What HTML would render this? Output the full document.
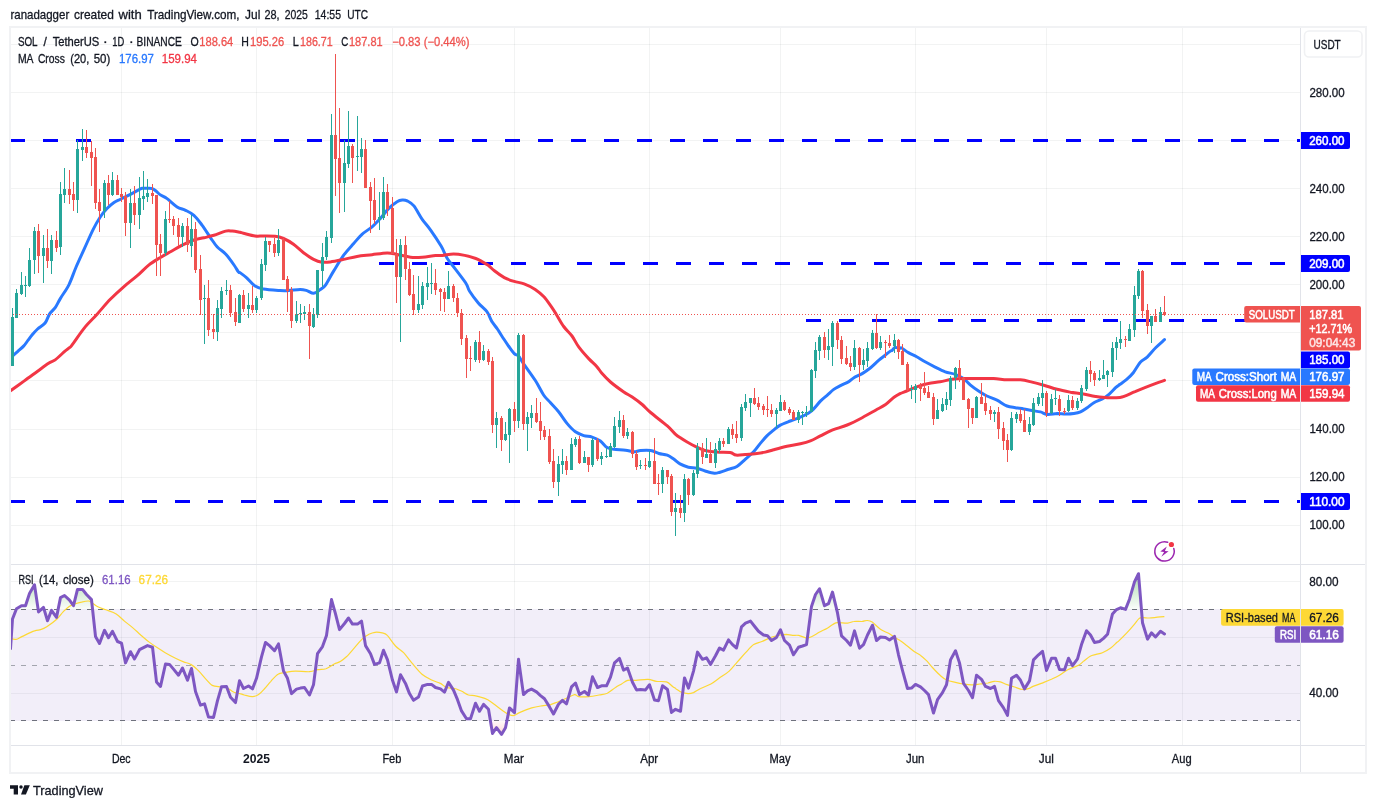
<!DOCTYPE html>
<html><head><meta charset="utf-8"><title>SOLUSDT chart</title>
<style>
html,body{margin:0;padding:0;background:#fff;}
body{width:1376px;height:808px;overflow:hidden;font-family:"Liberation Sans",sans-serif;}
svg{display:block;}
svg text{font-family:"Liberation Sans",sans-serif;}
</style></head><body>
<svg width="1376" height="808" viewBox="0 0 1376 808" shape-rendering="auto">
<rect x="0" y="0" width="1376" height="808" fill="#ffffff"/>
<defs><clipPath id="pane"><rect x="11" y="28" width="1289" height="717"/></clipPath><linearGradient id="ob" x1="0" y1="570" x2="0" y2="609" gradientUnits="userSpaceOnUse"><stop offset="0" stop-color="#4caf50" stop-opacity="0.5"/><stop offset="1" stop-color="#4caf50" stop-opacity="0.03"/></linearGradient><linearGradient id="os" x1="0" y1="721" x2="0" y2="745" gradientUnits="userSpaceOnUse"><stop offset="0" stop-color="#ff5252" stop-opacity="0.03"/><stop offset="1" stop-color="#ff5252" stop-opacity="0.4"/></linearGradient></defs>
<rect x="121" y="28" width="1" height="717" fill="#2a2e39" fill-opacity="0.06"/>
<rect x="256" y="28" width="1" height="717" fill="#2a2e39" fill-opacity="0.06"/>
<rect x="392" y="28" width="1" height="717" fill="#2a2e39" fill-opacity="0.06"/>
<rect x="514" y="28" width="1" height="717" fill="#2a2e39" fill-opacity="0.06"/>
<rect x="649" y="28" width="1" height="717" fill="#2a2e39" fill-opacity="0.06"/>
<rect x="780" y="28" width="1" height="717" fill="#2a2e39" fill-opacity="0.06"/>
<rect x="915" y="28" width="1" height="717" fill="#2a2e39" fill-opacity="0.06"/>
<rect x="1046" y="28" width="1" height="717" fill="#2a2e39" fill-opacity="0.06"/>
<rect x="1182" y="28" width="1" height="717" fill="#2a2e39" fill-opacity="0.06"/>
<rect x="11" y="44" width="1289" height="1" fill="#2a2e39" fill-opacity="0.06"/>
<rect x="11" y="92" width="1289" height="1" fill="#2a2e39" fill-opacity="0.06"/>
<rect x="11" y="140" width="1289" height="1" fill="#2a2e39" fill-opacity="0.06"/>
<rect x="11" y="188" width="1289" height="1" fill="#2a2e39" fill-opacity="0.06"/>
<rect x="11" y="236" width="1289" height="1" fill="#2a2e39" fill-opacity="0.06"/>
<rect x="11" y="284" width="1289" height="1" fill="#2a2e39" fill-opacity="0.06"/>
<rect x="11" y="332" width="1289" height="1" fill="#2a2e39" fill-opacity="0.06"/>
<rect x="11" y="380" width="1289" height="1" fill="#2a2e39" fill-opacity="0.06"/>
<rect x="11" y="429" width="1289" height="1" fill="#2a2e39" fill-opacity="0.06"/>
<rect x="11" y="477" width="1289" height="1" fill="#2a2e39" fill-opacity="0.06"/>
<rect x="11" y="525" width="1289" height="1" fill="#2a2e39" fill-opacity="0.06"/>
<rect x="11" y="581" width="1289" height="1" fill="#2a2e39" fill-opacity="0.06"/>
<rect x="11" y="637" width="1289" height="1" fill="#2a2e39" fill-opacity="0.06"/>
<rect x="11" y="693" width="1289" height="1" fill="#2a2e39" fill-opacity="0.06"/>
<g clip-path="url(#pane)">
<rect x="11" y="609" width="1289" height="112" fill="#7e57c2" fill-opacity="0.1"/>
<line x1="10" y1="609.5" x2="1300" y2="609.5" stroke="#6f727d" stroke-width="1" stroke-dasharray="5 6"/>
<line x1="10" y1="665.5" x2="1300" y2="665.5" stroke="#a3a5ae" stroke-width="1" stroke-dasharray="5 6"/>
<line x1="10" y1="720.5" x2="1300" y2="720.5" stroke="#6f727d" stroke-width="1" stroke-dasharray="5 6"/>
<line x1="10" y1="140.5" x2="1300" y2="140.5" stroke="#0000ff" stroke-width="3" stroke-dasharray="15 18"/>
<line x1="379" y1="263.5" x2="1290" y2="263.5" stroke="#0000ff" stroke-width="3" stroke-dasharray="15 18"/>
<line x1="806" y1="320.5" x2="1250" y2="320.5" stroke="#0000ff" stroke-width="3" stroke-dasharray="15 18"/>
<line x1="10" y1="501.5" x2="1300" y2="501.5" stroke="#0000ff" stroke-width="3" stroke-dasharray="15 18"/>
<path d="M10.5,359.6 C10.8,359.0 11.1,357.6 12.4,356.2 C13.7,354.8 16.2,352.8 18.1,351.1 C20.0,349.4 22.1,347.7 23.8,345.9 C25.5,344.1 26.7,342.0 28.1,340.2 C29.5,338.4 30.4,336.9 32.0,335.0 C33.6,333.1 35.4,331.0 37.6,329.0 C39.8,327.0 43.1,325.5 45.1,323.0 C47.1,320.5 47.8,316.7 49.5,314.1 C51.2,311.5 53.6,310.0 55.4,307.4 C57.2,304.8 58.0,302.4 60.3,298.6 C62.5,294.8 66.3,290.0 68.9,284.8 C71.5,279.6 73.3,273.6 75.9,267.5 C78.5,261.4 81.6,254.8 84.5,248.4 C87.4,242.0 90.6,234.5 93.2,229.3 C95.8,224.1 97.8,220.7 100.1,217.2 C102.4,213.7 104.7,210.9 107.0,208.5 C109.3,206.1 111.7,204.1 114.0,202.5 C116.3,200.9 117.8,200.6 120.9,199.0 C124.0,197.4 129.6,194.7 132.7,193.1 C135.8,191.5 137.6,190.4 139.2,189.6 C140.8,188.8 140.8,188.5 142.3,188.3 C143.8,188.1 146.3,188.2 148.0,188.3 C149.7,188.4 151.0,188.2 152.3,188.7 C153.6,189.1 154.7,190.0 156.0,191.0 C157.3,192.0 158.2,193.3 160.0,194.6 C161.8,195.9 164.2,196.5 167.1,198.6 C169.9,200.7 174.0,204.9 177.1,206.9 C180.2,208.9 182.7,208.9 185.5,210.3 C188.3,211.7 191.1,212.8 193.9,215.3 C196.7,217.8 199.4,221.6 202.2,225.3 C205.0,229.1 208.1,234.2 210.6,237.8 C213.1,241.4 214.8,244.3 217.3,247.0 C219.8,249.7 222.8,251.0 225.6,254.0 C228.4,257.0 231.9,262.0 234.0,265.0 C236.1,268.0 237.4,270.6 238.4,271.9 C239.4,273.2 238.6,271.6 240.0,272.6 C241.4,273.6 244.2,275.6 246.7,277.8 C249.2,280.1 252.3,284.2 255.1,286.1 C257.9,288.0 259.2,288.2 263.4,289.0 C267.6,289.8 275.9,290.3 280.1,290.6 C284.3,290.9 285.1,290.8 288.5,290.6 C291.9,290.4 297.1,289.5 300.2,289.5 C303.3,289.5 304.7,290.0 306.9,290.6 C309.1,291.2 311.4,293.5 313.6,293.3 C315.8,293.1 318.4,290.8 320.3,289.5 C322.2,288.2 323.1,288.4 325.3,285.3 C327.5,282.2 330.5,276.1 333.6,271.1 C336.7,266.1 340.4,259.8 343.7,255.2 C347.0,250.6 350.6,247.0 353.7,243.5 C356.8,240.0 358.9,237.1 362.0,234.3 C365.1,231.5 369.0,229.5 372.1,226.8 C375.2,224.2 377.6,221.5 380.4,218.4 C383.2,215.3 386.0,211.2 388.8,208.4 C391.6,205.6 394.9,203.1 397.1,201.7 C399.3,200.3 400.5,200.2 402.2,200.1 C403.9,200.0 405.2,199.9 407.2,200.9 C409.1,201.9 411.4,202.8 413.9,205.9 C416.4,209.0 419.4,215.3 422.2,219.3 C425.0,223.3 427.5,225.6 430.6,230.1 C433.8,234.6 438.3,241.4 441.1,246.1 C443.9,250.8 445.0,254.8 447.3,258.5 C449.6,262.2 451.7,264.3 454.8,268.4 C457.9,272.5 463.4,279.4 465.9,283.2 C468.4,287.0 467.5,288.0 469.6,291.3 C471.7,294.6 475.4,299.6 478.3,303.0 C481.2,306.4 484.6,308.6 486.9,311.7 C489.2,314.8 490.1,318.7 491.9,321.6 C493.6,324.5 495.8,326.6 497.4,329.0 C499.0,331.4 499.9,333.2 501.8,336.0 C503.7,338.8 506.4,343.1 508.5,346.0 C510.6,348.9 512.6,351.9 514.3,353.6 C516.0,355.3 517.0,354.4 518.5,356.1 C520.0,357.8 520.7,359.6 523.5,363.6 C526.3,367.6 531.9,375.1 535.2,380.3 C538.6,385.5 541.1,391.3 543.6,395.0 C546.1,398.7 547.8,399.7 550.3,402.5 C552.8,405.3 555.8,408.2 558.6,411.7 C561.4,415.2 564.2,420.0 567.0,423.4 C569.8,426.8 572.6,429.8 575.4,431.8 C578.2,433.8 580.9,434.7 583.7,435.6 C586.5,436.5 589.3,436.2 592.1,437.1 C594.9,438.0 597.9,439.2 600.4,441.0 C602.9,442.8 604.9,446.2 607.1,447.6 C609.3,449.0 610.7,448.9 613.8,449.3 C616.9,449.7 622.1,449.8 625.5,450.2 C628.9,450.6 631.4,451.8 633.9,451.8 C636.4,451.9 637.7,450.7 640.5,450.5 C643.3,450.3 647.5,450.0 650.6,450.5 C653.7,451.0 656.1,452.7 658.9,453.5 C661.7,454.3 664.8,454.2 667.3,455.2 C669.8,456.2 671.9,457.9 674.0,459.3 C676.1,460.8 677.6,462.6 680.0,463.9 C682.4,465.2 685.6,466.5 688.4,467.2 C691.2,467.9 693.9,467.6 696.7,468.2 C699.5,468.8 702.2,470.2 705.1,471.0 C708.0,471.8 711.8,473.0 714.3,473.2 C716.8,473.4 717.7,472.8 720.1,472.2 C722.5,471.6 725.7,470.2 728.5,469.3 C731.3,468.4 734.1,468.2 736.9,466.5 C739.7,464.8 742.4,461.8 745.2,459.3 C748.0,456.9 751.1,454.5 753.6,451.8 C756.1,449.1 758.1,446.0 760.3,443.4 C762.5,440.8 764.7,438.1 766.9,435.9 C769.1,433.7 771.4,431.9 773.6,430.1 C775.8,428.3 777.5,426.6 780.3,425.1 C783.1,423.6 786.9,422.3 790.3,421.0 C793.6,419.7 797.3,418.5 800.4,417.2 C803.5,415.9 806.5,414.4 808.7,413.0 C810.9,411.6 811.8,410.9 813.7,408.9 C815.7,406.9 818.2,403.4 820.4,401.1 C822.6,398.8 824.9,397.2 827.1,395.3 C829.3,393.4 831.6,391.0 833.8,389.4 C836.0,387.8 838.0,386.9 840.5,385.6 C843.0,384.3 846.6,382.9 848.8,381.6 C851.0,380.3 851.7,379.0 853.9,377.7 C856.1,376.4 859.4,375.3 862.2,373.6 C865.0,371.9 867.8,369.9 870.6,367.7 C873.4,365.5 876.4,362.3 878.9,360.2 C881.4,358.1 883.8,356.3 885.6,354.8 C887.5,353.3 888.9,352.2 890.0,351.4 C891.1,350.6 891.5,350.8 892.3,350.2 C893.1,349.6 893.7,347.8 895.0,347.5 C896.3,347.2 898.9,348.1 900.0,348.2 C901.1,348.3 900.3,347.3 901.7,348.0 C903.1,348.7 905.9,351.2 908.4,352.6 C910.9,354.1 913.9,355.2 916.7,356.7 C919.5,358.2 922.0,360.1 925.1,361.8 C928.2,363.5 931.8,365.4 935.1,367.1 C938.5,368.8 941.9,370.6 945.2,371.8 C948.6,373.0 952.2,373.2 955.2,374.3 C958.2,375.4 961.0,376.8 963.5,378.5 C966.0,380.2 967.7,382.7 970.2,384.8 C972.7,386.9 975.8,389.1 978.6,391.0 C981.4,392.9 983.8,394.5 986.9,396.0 C990.0,397.5 993.6,398.5 997.0,400.2 C1000.4,401.9 1003.9,404.8 1007.0,406.0 C1010.1,407.2 1012.6,407.2 1015.4,407.7 C1018.2,408.2 1020.9,408.4 1023.7,408.9 C1026.5,409.4 1029.3,410.1 1032.1,410.6 C1034.9,411.1 1037.9,411.3 1040.4,411.9 C1042.9,412.5 1044.3,414.1 1047.1,414.4 C1049.9,414.7 1054.0,413.7 1057.1,413.6 C1060.2,413.6 1062.7,414.1 1065.5,414.1 C1068.3,414.1 1071.4,414.0 1073.9,413.6 C1076.4,413.2 1078.3,412.9 1080.5,411.9 C1082.7,410.9 1085.0,409.2 1087.2,407.7 C1089.4,406.2 1091.4,404.2 1093.9,402.7 C1096.4,401.2 1099.8,400.3 1102.3,398.9 C1104.8,397.5 1106.8,396.2 1109.0,394.3 C1111.2,392.4 1113.8,389.4 1115.6,387.7 C1117.4,386.0 1118.2,385.6 1120.0,384.3 C1121.8,383.0 1124.2,381.5 1126.4,379.6 C1128.6,377.7 1131.0,375.6 1133.3,372.7 C1135.6,369.8 1138.0,364.9 1140.3,362.3 C1142.6,359.7 1144.6,359.6 1147.2,357.1 C1149.8,354.6 1153.0,350.4 1155.9,347.5 C1158.8,344.6 1163.1,340.9 1164.5,339.6" fill="none" stroke="#2979ff" stroke-width="3" stroke-linejoin="round" stroke-linecap="round"/>
<path d="M9.0,392.0 C9.3,391.8 8.3,392.4 10.9,390.5 C13.5,388.6 19.9,384.1 24.3,380.9 C28.8,377.7 33.6,374.1 37.6,371.2 C41.6,368.3 45.7,365.2 48.6,363.3 C51.5,361.4 52.5,361.9 55.2,359.9 C57.9,357.9 62.7,353.1 65.0,351.1 C67.3,349.2 67.7,349.2 68.8,348.2 C69.9,347.2 69.1,348.9 71.8,345.3 C74.5,341.8 81.0,332.0 85.2,326.9 C89.4,321.8 92.7,319.0 96.9,314.4 C101.1,309.8 105.8,303.9 110.3,299.3 C114.8,294.7 119.2,290.7 123.7,286.8 C128.2,282.9 132.8,279.5 137.0,275.9 C141.2,272.3 144.8,268.2 148.7,265.1 C152.6,262.0 156.8,259.7 160.4,257.5 C164.0,255.3 166.6,253.9 170.5,251.7 C174.4,249.5 179.9,246.2 183.8,244.3 C187.7,242.4 190.6,241.1 193.9,240.0 C197.2,238.9 200.6,238.6 203.9,237.8 C207.2,237.0 210.3,236.4 213.9,235.3 C217.5,234.2 222.5,231.8 225.6,231.1 C228.7,230.4 229.9,230.9 232.3,231.1 C234.7,231.3 238.2,232.0 240.0,232.3 C241.8,232.7 240.9,232.6 243.4,233.2 C245.9,233.8 251.8,235.5 255.1,236.0 C258.4,236.5 260.1,235.9 263.4,236.0 C266.7,236.1 271.8,235.9 275.1,236.3 C278.5,236.7 280.4,237.2 283.5,238.5 C286.6,239.8 290.2,241.9 293.5,244.3 C296.8,246.7 300.1,250.2 303.5,252.7 C306.9,255.2 310.5,257.8 313.6,259.4 C316.7,261.0 319.1,261.8 321.9,262.2 C324.7,262.6 326.7,262.4 330.3,261.9 C333.9,261.4 339.2,260.3 343.7,259.4 C348.1,258.5 352.3,257.2 357.0,256.4 C361.7,255.6 367.1,255.3 372.1,254.7 C377.1,254.1 382.9,253.1 387.1,253.0 C391.3,252.9 393.2,253.7 397.1,254.4 C401.0,255.1 406.3,256.7 410.5,257.2 C414.7,257.7 418.0,257.5 422.2,257.2 C426.4,256.9 432.2,255.8 435.6,255.5 C439.0,255.2 439.4,255.6 442.4,255.4 C445.4,255.2 449.8,254.1 453.5,254.1 C457.2,254.1 461.0,254.7 464.7,255.4 C468.4,256.1 472.9,257.5 475.8,258.5 C478.7,259.5 479.9,260.5 482.0,261.6 C484.1,262.7 486.1,263.8 488.2,265.3 C490.3,266.8 491.7,268.8 494.4,270.8 C497.1,272.9 501.0,275.8 504.3,277.6 C507.6,279.4 510.9,280.4 514.2,281.4 C517.5,282.4 520.6,282.5 524.1,283.8 C527.6,285.1 531.9,287.2 535.2,289.4 C538.5,291.6 541.2,293.9 543.9,296.8 C546.6,299.7 549.2,303.8 551.3,306.7 C553.3,309.6 554.1,310.9 556.2,314.2 C558.3,317.5 561.1,322.9 563.7,326.5 C566.3,330.1 569.5,332.6 572.0,336.0 C574.5,339.4 575.9,343.1 578.7,346.9 C581.5,350.7 585.6,355.3 588.7,358.6 C591.8,361.9 594.9,364.4 597.1,366.9 C599.3,369.4 599.9,371.1 602.1,373.6 C604.3,376.1 606.9,378.9 610.5,382.0 C614.1,385.1 620.2,389.5 623.8,392.0 C627.4,394.5 629.1,394.9 632.2,397.0 C635.3,399.1 639.1,401.9 642.2,404.5 C645.3,407.1 646.4,408.9 650.6,412.5 C654.8,416.1 663.1,422.3 667.3,425.9 C671.5,429.5 673.5,432.4 675.6,434.3 C677.7,436.2 678.1,436.4 680.0,437.6 C681.9,438.9 683.9,440.2 686.7,441.8 C689.5,443.4 693.6,445.7 696.7,447.1 C699.8,448.6 701.8,449.7 705.1,450.5 C708.5,451.3 712.6,451.8 716.8,452.1 C721.0,452.5 727.0,452.1 730.2,452.6 C733.4,453.1 733.5,454.8 736.0,455.1 C738.5,455.4 741.7,454.9 745.2,454.6 C748.7,454.3 753.5,453.9 756.9,453.5 C760.2,453.1 762.5,452.7 765.3,452.1 C768.1,451.5 770.0,450.8 773.6,449.8 C777.2,448.8 782.5,447.3 787.0,446.3 C791.5,445.3 796.5,444.7 800.4,443.8 C804.3,442.9 807.1,442.2 810.4,440.9 C813.7,439.6 816.8,437.7 820.4,435.9 C824.0,434.1 827.6,432.0 832.1,430.2 C836.6,428.4 842.2,427.1 847.2,425.0 C852.2,422.9 857.5,420.2 862.2,417.7 C866.9,415.2 871.7,412.4 875.6,410.2 C879.5,408.0 882.5,406.6 885.6,404.5 C888.7,402.4 891.6,399.1 894.0,397.3 C896.4,395.5 897.9,394.7 900.0,393.6 C902.1,392.6 903.9,392.1 906.7,391.0 C909.5,389.9 913.1,388.1 916.7,386.8 C920.3,385.6 924.5,384.3 928.4,383.5 C932.3,382.7 936.2,382.5 940.1,381.8 C944.0,381.1 947.9,379.9 951.8,379.3 C955.7,378.8 959.0,378.6 963.5,378.5 C968.0,378.4 973.6,378.5 978.6,378.5 C983.6,378.5 988.9,378.3 993.6,378.5 C998.3,378.7 1002.5,379.6 1007.0,379.8 C1011.5,380.0 1016.2,379.4 1020.4,379.8 C1024.6,380.2 1028.2,381.2 1032.1,382.1 C1036.0,383.0 1039.6,384.0 1043.8,385.2 C1048.0,386.4 1052.6,388.1 1057.1,389.3 C1061.5,390.5 1066.3,391.4 1070.5,392.2 C1074.7,392.9 1078.0,393.1 1082.2,393.8 C1086.4,394.5 1091.4,395.9 1095.6,396.5 C1099.8,397.1 1103.2,397.6 1107.3,397.7 C1111.4,397.8 1117.1,397.7 1120.0,397.4 C1122.9,397.1 1122.2,397.1 1124.7,396.1 C1127.2,395.2 1131.6,393.1 1135.1,391.7 C1138.6,390.2 1142.0,388.8 1145.5,387.4 C1149.0,386.0 1152.7,384.6 1155.9,383.4 C1159.1,382.2 1163.1,380.9 1164.5,380.4" fill="none" stroke="#f23645" stroke-width="3" stroke-linejoin="round" stroke-linecap="round"/>
<rect x="12" y="308" width="1" height="58" fill="#26a69a"/>
<rect x="11" y="317" width="3" height="49" fill="#26a69a"/>
<rect x="16" y="289" width="1" height="29" fill="#26a69a"/>
<rect x="15" y="293" width="3" height="25" fill="#26a69a"/>
<rect x="21" y="272" width="1" height="23" fill="#26a69a"/>
<rect x="20" y="285" width="3" height="9" fill="#26a69a"/>
<rect x="25" y="276" width="1" height="21" fill="#26a69a"/>
<rect x="24" y="285" width="3" height="1" fill="#26a69a"/>
<rect x="29" y="248" width="1" height="39" fill="#26a69a"/>
<rect x="28" y="260" width="3" height="26" fill="#26a69a"/>
<rect x="34" y="227" width="1" height="47" fill="#26a69a"/>
<rect x="33" y="231" width="3" height="29" fill="#26a69a"/>
<rect x="38" y="224" width="1" height="49" fill="#ef5350"/>
<rect x="37" y="231" width="3" height="25" fill="#ef5350"/>
<rect x="43" y="235" width="1" height="48" fill="#26a69a"/>
<rect x="42" y="248" width="3" height="8" fill="#26a69a"/>
<rect x="47" y="229" width="1" height="39" fill="#ef5350"/>
<rect x="46" y="248" width="3" height="13" fill="#ef5350"/>
<rect x="51" y="235" width="1" height="39" fill="#26a69a"/>
<rect x="50" y="240" width="3" height="21" fill="#26a69a"/>
<rect x="56" y="231" width="1" height="21" fill="#ef5350"/>
<rect x="55" y="240" width="3" height="8" fill="#ef5350"/>
<rect x="60" y="182" width="1" height="73" fill="#26a69a"/>
<rect x="59" y="194" width="3" height="53" fill="#26a69a"/>
<rect x="64" y="168" width="1" height="35" fill="#26a69a"/>
<rect x="63" y="189" width="3" height="6" fill="#26a69a"/>
<rect x="69" y="170" width="1" height="34" fill="#ef5350"/>
<rect x="68" y="189" width="3" height="6" fill="#ef5350"/>
<rect x="73" y="182" width="1" height="29" fill="#ef5350"/>
<rect x="72" y="194" width="3" height="6" fill="#ef5350"/>
<rect x="77" y="140" width="1" height="73" fill="#26a69a"/>
<rect x="76" y="149" width="3" height="51" fill="#26a69a"/>
<rect x="82" y="129" width="1" height="32" fill="#26a69a"/>
<rect x="81" y="147" width="3" height="3" fill="#26a69a"/>
<rect x="86" y="130" width="1" height="28" fill="#ef5350"/>
<rect x="85" y="147" width="3" height="6" fill="#ef5350"/>
<rect x="91" y="141" width="1" height="45" fill="#ef5350"/>
<rect x="90" y="152" width="3" height="6" fill="#ef5350"/>
<rect x="95" y="148" width="1" height="61" fill="#ef5350"/>
<rect x="94" y="157" width="3" height="46" fill="#ef5350"/>
<rect x="99" y="189" width="1" height="43" fill="#ef5350"/>
<rect x="98" y="202" width="3" height="9" fill="#ef5350"/>
<rect x="104" y="180" width="1" height="38" fill="#26a69a"/>
<rect x="103" y="183" width="3" height="28" fill="#26a69a"/>
<rect x="108" y="175" width="1" height="30" fill="#ef5350"/>
<rect x="107" y="183" width="3" height="12" fill="#ef5350"/>
<rect x="112" y="172" width="1" height="24" fill="#26a69a"/>
<rect x="111" y="180" width="3" height="15" fill="#26a69a"/>
<rect x="117" y="175" width="1" height="20" fill="#ef5350"/>
<rect x="116" y="180" width="3" height="15" fill="#ef5350"/>
<rect x="121" y="188" width="1" height="14" fill="#ef5350"/>
<rect x="120" y="194" width="3" height="3" fill="#ef5350"/>
<rect x="125" y="192" width="1" height="44" fill="#ef5350"/>
<rect x="124" y="196" width="3" height="27" fill="#ef5350"/>
<rect x="130" y="189" width="1" height="59" fill="#26a69a"/>
<rect x="129" y="203" width="3" height="20" fill="#26a69a"/>
<rect x="134" y="186" width="1" height="39" fill="#ef5350"/>
<rect x="133" y="203" width="3" height="12" fill="#ef5350"/>
<rect x="139" y="177" width="1" height="52" fill="#26a69a"/>
<rect x="138" y="198" width="3" height="17" fill="#26a69a"/>
<rect x="143" y="171" width="1" height="39" fill="#26a69a"/>
<rect x="142" y="196" width="3" height="3" fill="#26a69a"/>
<rect x="147" y="179" width="1" height="23" fill="#26a69a"/>
<rect x="146" y="193" width="3" height="4" fill="#26a69a"/>
<rect x="152" y="184" width="1" height="20" fill="#ef5350"/>
<rect x="151" y="193" width="3" height="3" fill="#ef5350"/>
<rect x="156" y="195" width="1" height="81" fill="#ef5350"/>
<rect x="155" y="195" width="3" height="50" fill="#ef5350"/>
<rect x="160" y="234" width="1" height="42" fill="#ef5350"/>
<rect x="159" y="244" width="3" height="9" fill="#ef5350"/>
<rect x="165" y="211" width="1" height="45" fill="#26a69a"/>
<rect x="164" y="219" width="3" height="34" fill="#26a69a"/>
<rect x="169" y="201" width="1" height="22" fill="#ef5350"/>
<rect x="168" y="219" width="3" height="1" fill="#ef5350"/>
<rect x="173" y="216" width="1" height="19" fill="#ef5350"/>
<rect x="172" y="219" width="3" height="7" fill="#ef5350"/>
<rect x="178" y="218" width="1" height="28" fill="#ef5350"/>
<rect x="177" y="225" width="3" height="12" fill="#ef5350"/>
<rect x="182" y="223" width="1" height="24" fill="#26a69a"/>
<rect x="181" y="226" width="3" height="11" fill="#26a69a"/>
<rect x="187" y="218" width="1" height="34" fill="#ef5350"/>
<rect x="186" y="226" width="3" height="19" fill="#ef5350"/>
<rect x="191" y="215" width="1" height="42" fill="#26a69a"/>
<rect x="190" y="229" width="3" height="17" fill="#26a69a"/>
<rect x="195" y="222" width="1" height="51" fill="#ef5350"/>
<rect x="194" y="229" width="3" height="41" fill="#ef5350"/>
<rect x="200" y="255" width="1" height="60" fill="#ef5350"/>
<rect x="199" y="269" width="3" height="31" fill="#ef5350"/>
<rect x="204" y="285" width="1" height="59" fill="#26a69a"/>
<rect x="203" y="298" width="3" height="1" fill="#26a69a"/>
<rect x="208" y="280" width="1" height="56" fill="#ef5350"/>
<rect x="207" y="298" width="3" height="32" fill="#ef5350"/>
<rect x="213" y="314" width="1" height="25" fill="#ef5350"/>
<rect x="212" y="329" width="3" height="3" fill="#ef5350"/>
<rect x="217" y="300" width="1" height="41" fill="#26a69a"/>
<rect x="216" y="308" width="3" height="24" fill="#26a69a"/>
<rect x="221" y="287" width="1" height="31" fill="#26a69a"/>
<rect x="220" y="291" width="3" height="18" fill="#26a69a"/>
<rect x="226" y="280" width="1" height="15" fill="#26a69a"/>
<rect x="225" y="290" width="3" height="1" fill="#26a69a"/>
<rect x="230" y="285" width="1" height="32" fill="#ef5350"/>
<rect x="229" y="290" width="3" height="23" fill="#ef5350"/>
<rect x="235" y="298" width="1" height="28" fill="#ef5350"/>
<rect x="234" y="312" width="3" height="10" fill="#ef5350"/>
<rect x="239" y="294" width="1" height="29" fill="#26a69a"/>
<rect x="238" y="295" width="3" height="28" fill="#26a69a"/>
<rect x="243" y="290" width="1" height="22" fill="#ef5350"/>
<rect x="242" y="295" width="3" height="14" fill="#ef5350"/>
<rect x="248" y="293" width="1" height="25" fill="#26a69a"/>
<rect x="247" y="305" width="3" height="4" fill="#26a69a"/>
<rect x="252" y="286" width="1" height="27" fill="#ef5350"/>
<rect x="251" y="305" width="3" height="5" fill="#ef5350"/>
<rect x="256" y="296" width="1" height="17" fill="#26a69a"/>
<rect x="255" y="298" width="3" height="12" fill="#26a69a"/>
<rect x="261" y="259" width="1" height="41" fill="#26a69a"/>
<rect x="260" y="264" width="3" height="34" fill="#26a69a"/>
<rect x="265" y="237" width="1" height="34" fill="#26a69a"/>
<rect x="264" y="241" width="3" height="24" fill="#26a69a"/>
<rect x="269" y="241" width="1" height="11" fill="#ef5350"/>
<rect x="268" y="241" width="3" height="4" fill="#ef5350"/>
<rect x="274" y="238" width="1" height="19" fill="#ef5350"/>
<rect x="273" y="244" width="3" height="9" fill="#ef5350"/>
<rect x="278" y="229" width="1" height="27" fill="#26a69a"/>
<rect x="277" y="240" width="3" height="13" fill="#26a69a"/>
<rect x="283" y="238" width="1" height="42" fill="#ef5350"/>
<rect x="282" y="240" width="3" height="40" fill="#ef5350"/>
<rect x="287" y="276" width="1" height="36" fill="#ef5350"/>
<rect x="286" y="279" width="3" height="12" fill="#ef5350"/>
<rect x="291" y="287" width="1" height="41" fill="#ef5350"/>
<rect x="290" y="290" width="3" height="31" fill="#ef5350"/>
<rect x="296" y="301" width="1" height="22" fill="#26a69a"/>
<rect x="295" y="314" width="3" height="7" fill="#26a69a"/>
<rect x="300" y="304" width="1" height="19" fill="#26a69a"/>
<rect x="299" y="313" width="3" height="1" fill="#26a69a"/>
<rect x="304" y="306" width="1" height="14" fill="#26a69a"/>
<rect x="303" y="312" width="3" height="2" fill="#26a69a"/>
<rect x="309" y="304" width="1" height="55" fill="#ef5350"/>
<rect x="308" y="312" width="3" height="14" fill="#ef5350"/>
<rect x="313" y="308" width="1" height="20" fill="#26a69a"/>
<rect x="312" y="314" width="3" height="13" fill="#26a69a"/>
<rect x="317" y="270" width="1" height="48" fill="#26a69a"/>
<rect x="316" y="270" width="3" height="45" fill="#26a69a"/>
<rect x="322" y="243" width="1" height="44" fill="#26a69a"/>
<rect x="321" y="257" width="3" height="14" fill="#26a69a"/>
<rect x="326" y="231" width="1" height="29" fill="#26a69a"/>
<rect x="325" y="237" width="3" height="20" fill="#26a69a"/>
<rect x="331" y="114" width="1" height="129" fill="#26a69a"/>
<rect x="330" y="135" width="3" height="103" fill="#26a69a"/>
<rect x="335" y="54" width="1" height="142" fill="#ef5350"/>
<rect x="334" y="135" width="3" height="24" fill="#ef5350"/>
<rect x="339" y="108" width="1" height="105" fill="#ef5350"/>
<rect x="338" y="158" width="3" height="25" fill="#ef5350"/>
<rect x="344" y="140" width="1" height="72" fill="#26a69a"/>
<rect x="343" y="163" width="3" height="20" fill="#26a69a"/>
<rect x="348" y="111" width="1" height="57" fill="#26a69a"/>
<rect x="347" y="146" width="3" height="18" fill="#26a69a"/>
<rect x="352" y="144" width="1" height="39" fill="#ef5350"/>
<rect x="351" y="146" width="3" height="12" fill="#ef5350"/>
<rect x="357" y="116" width="1" height="55" fill="#26a69a"/>
<rect x="356" y="156" width="3" height="1" fill="#26a69a"/>
<rect x="361" y="138" width="1" height="35" fill="#26a69a"/>
<rect x="360" y="149" width="3" height="8" fill="#26a69a"/>
<rect x="365" y="140" width="1" height="48" fill="#ef5350"/>
<rect x="364" y="149" width="3" height="39" fill="#ef5350"/>
<rect x="370" y="182" width="1" height="51" fill="#ef5350"/>
<rect x="369" y="187" width="3" height="14" fill="#ef5350"/>
<rect x="374" y="178" width="1" height="46" fill="#ef5350"/>
<rect x="373" y="200" width="3" height="20" fill="#ef5350"/>
<rect x="379" y="192" width="1" height="38" fill="#26a69a"/>
<rect x="378" y="217" width="3" height="3" fill="#26a69a"/>
<rect x="383" y="177" width="1" height="43" fill="#26a69a"/>
<rect x="382" y="192" width="3" height="26" fill="#26a69a"/>
<rect x="387" y="184" width="1" height="32" fill="#ef5350"/>
<rect x="386" y="192" width="3" height="17" fill="#ef5350"/>
<rect x="392" y="197" width="1" height="57" fill="#ef5350"/>
<rect x="391" y="208" width="3" height="46" fill="#ef5350"/>
<rect x="396" y="239" width="1" height="64" fill="#ef5350"/>
<rect x="395" y="254" width="3" height="23" fill="#ef5350"/>
<rect x="400" y="239" width="1" height="103" fill="#26a69a"/>
<rect x="399" y="245" width="3" height="32" fill="#26a69a"/>
<rect x="405" y="236" width="1" height="44" fill="#ef5350"/>
<rect x="404" y="245" width="3" height="24" fill="#ef5350"/>
<rect x="409" y="262" width="1" height="34" fill="#ef5350"/>
<rect x="408" y="269" width="3" height="26" fill="#ef5350"/>
<rect x="413" y="275" width="1" height="40" fill="#ef5350"/>
<rect x="412" y="294" width="3" height="16" fill="#ef5350"/>
<rect x="418" y="276" width="1" height="37" fill="#26a69a"/>
<rect x="417" y="304" width="3" height="6" fill="#26a69a"/>
<rect x="422" y="282" width="1" height="27" fill="#26a69a"/>
<rect x="421" y="286" width="3" height="19" fill="#26a69a"/>
<rect x="427" y="267" width="1" height="33" fill="#26a69a"/>
<rect x="426" y="283" width="3" height="4" fill="#26a69a"/>
<rect x="431" y="263" width="1" height="31" fill="#26a69a"/>
<rect x="430" y="283" width="3" height="1" fill="#26a69a"/>
<rect x="435" y="269" width="1" height="26" fill="#ef5350"/>
<rect x="434" y="283" width="3" height="7" fill="#ef5350"/>
<rect x="440" y="288" width="1" height="23" fill="#ef5350"/>
<rect x="439" y="289" width="3" height="3" fill="#ef5350"/>
<rect x="444" y="288" width="1" height="24" fill="#ef5350"/>
<rect x="443" y="292" width="3" height="7" fill="#ef5350"/>
<rect x="448" y="271" width="1" height="28" fill="#26a69a"/>
<rect x="447" y="286" width="3" height="13" fill="#26a69a"/>
<rect x="453" y="284" width="1" height="18" fill="#ef5350"/>
<rect x="452" y="286" width="3" height="12" fill="#ef5350"/>
<rect x="457" y="293" width="1" height="24" fill="#ef5350"/>
<rect x="456" y="298" width="3" height="15" fill="#ef5350"/>
<rect x="461" y="309" width="1" height="36" fill="#ef5350"/>
<rect x="460" y="313" width="3" height="26" fill="#ef5350"/>
<rect x="466" y="335" width="1" height="43" fill="#ef5350"/>
<rect x="465" y="338" width="3" height="21" fill="#ef5350"/>
<rect x="470" y="346" width="1" height="25" fill="#ef5350"/>
<rect x="469" y="358" width="3" height="1" fill="#ef5350"/>
<rect x="475" y="340" width="1" height="22" fill="#26a69a"/>
<rect x="474" y="342" width="3" height="18" fill="#26a69a"/>
<rect x="479" y="331" width="1" height="32" fill="#ef5350"/>
<rect x="478" y="342" width="3" height="18" fill="#ef5350"/>
<rect x="483" y="345" width="1" height="16" fill="#26a69a"/>
<rect x="482" y="351" width="3" height="9" fill="#26a69a"/>
<rect x="488" y="349" width="1" height="16" fill="#ef5350"/>
<rect x="487" y="351" width="3" height="11" fill="#ef5350"/>
<rect x="492" y="357" width="1" height="76" fill="#ef5350"/>
<rect x="491" y="361" width="3" height="64" fill="#ef5350"/>
<rect x="496" y="412" width="1" height="36" fill="#26a69a"/>
<rect x="495" y="418" width="3" height="7" fill="#26a69a"/>
<rect x="501" y="416" width="1" height="35" fill="#ef5350"/>
<rect x="500" y="418" width="3" height="22" fill="#ef5350"/>
<rect x="505" y="422" width="1" height="19" fill="#26a69a"/>
<rect x="504" y="434" width="3" height="6" fill="#26a69a"/>
<rect x="509" y="408" width="1" height="55" fill="#26a69a"/>
<rect x="508" y="409" width="3" height="26" fill="#26a69a"/>
<rect x="514" y="402" width="1" height="30" fill="#ef5350"/>
<rect x="513" y="409" width="3" height="12" fill="#ef5350"/>
<rect x="518" y="333" width="1" height="95" fill="#26a69a"/>
<rect x="517" y="335" width="3" height="86" fill="#26a69a"/>
<rect x="523" y="334" width="1" height="96" fill="#ef5350"/>
<rect x="522" y="335" width="3" height="89" fill="#ef5350"/>
<rect x="527" y="412" width="1" height="39" fill="#26a69a"/>
<rect x="526" y="417" width="3" height="7" fill="#26a69a"/>
<rect x="531" y="405" width="1" height="23" fill="#26a69a"/>
<rect x="530" y="413" width="3" height="5" fill="#26a69a"/>
<rect x="536" y="398" width="1" height="25" fill="#ef5350"/>
<rect x="535" y="413" width="3" height="9" fill="#ef5350"/>
<rect x="540" y="402" width="1" height="38" fill="#ef5350"/>
<rect x="539" y="421" width="3" height="10" fill="#ef5350"/>
<rect x="544" y="426" width="1" height="14" fill="#ef5350"/>
<rect x="543" y="430" width="3" height="7" fill="#ef5350"/>
<rect x="549" y="429" width="1" height="35" fill="#ef5350"/>
<rect x="548" y="436" width="3" height="26" fill="#ef5350"/>
<rect x="553" y="449" width="1" height="39" fill="#ef5350"/>
<rect x="552" y="461" width="3" height="21" fill="#ef5350"/>
<rect x="558" y="456" width="1" height="40" fill="#26a69a"/>
<rect x="557" y="464" width="3" height="18" fill="#26a69a"/>
<rect x="562" y="449" width="1" height="25" fill="#26a69a"/>
<rect x="561" y="461" width="3" height="4" fill="#26a69a"/>
<rect x="566" y="456" width="1" height="19" fill="#ef5350"/>
<rect x="565" y="461" width="3" height="9" fill="#ef5350"/>
<rect x="571" y="438" width="1" height="32" fill="#26a69a"/>
<rect x="570" y="444" width="3" height="26" fill="#26a69a"/>
<rect x="575" y="437" width="1" height="10" fill="#26a69a"/>
<rect x="574" y="439" width="3" height="6" fill="#26a69a"/>
<rect x="579" y="436" width="1" height="28" fill="#ef5350"/>
<rect x="578" y="439" width="3" height="24" fill="#ef5350"/>
<rect x="584" y="451" width="1" height="12" fill="#26a69a"/>
<rect x="583" y="457" width="3" height="6" fill="#26a69a"/>
<rect x="588" y="457" width="1" height="15" fill="#ef5350"/>
<rect x="587" y="457" width="3" height="8" fill="#ef5350"/>
<rect x="592" y="438" width="1" height="29" fill="#26a69a"/>
<rect x="591" y="440" width="3" height="25" fill="#26a69a"/>
<rect x="597" y="438" width="1" height="23" fill="#ef5350"/>
<rect x="596" y="440" width="3" height="19" fill="#ef5350"/>
<rect x="601" y="452" width="1" height="13" fill="#26a69a"/>
<rect x="600" y="456" width="3" height="3" fill="#26a69a"/>
<rect x="606" y="448" width="1" height="10" fill="#26a69a"/>
<rect x="605" y="456" width="3" height="1" fill="#26a69a"/>
<rect x="610" y="443" width="1" height="14" fill="#26a69a"/>
<rect x="609" y="446" width="3" height="11" fill="#26a69a"/>
<rect x="614" y="417" width="1" height="31" fill="#26a69a"/>
<rect x="613" y="426" width="3" height="21" fill="#26a69a"/>
<rect x="619" y="411" width="1" height="22" fill="#26a69a"/>
<rect x="618" y="420" width="3" height="7" fill="#26a69a"/>
<rect x="623" y="415" width="1" height="23" fill="#ef5350"/>
<rect x="622" y="420" width="3" height="16" fill="#ef5350"/>
<rect x="627" y="428" width="1" height="11" fill="#26a69a"/>
<rect x="626" y="432" width="3" height="4" fill="#26a69a"/>
<rect x="632" y="431" width="1" height="27" fill="#ef5350"/>
<rect x="631" y="432" width="3" height="22" fill="#ef5350"/>
<rect x="636" y="451" width="1" height="19" fill="#ef5350"/>
<rect x="635" y="454" width="3" height="13" fill="#ef5350"/>
<rect x="640" y="460" width="1" height="9" fill="#26a69a"/>
<rect x="639" y="465" width="3" height="1" fill="#26a69a"/>
<rect x="645" y="458" width="1" height="12" fill="#ef5350"/>
<rect x="644" y="465" width="3" height="1" fill="#ef5350"/>
<rect x="649" y="451" width="1" height="17" fill="#26a69a"/>
<rect x="648" y="461" width="3" height="6" fill="#26a69a"/>
<rect x="654" y="438" width="1" height="46" fill="#ef5350"/>
<rect x="653" y="461" width="3" height="23" fill="#ef5350"/>
<rect x="658" y="474" width="1" height="21" fill="#ef5350"/>
<rect x="657" y="483" width="3" height="1" fill="#ef5350"/>
<rect x="662" y="467" width="1" height="26" fill="#26a69a"/>
<rect x="661" y="470" width="3" height="14" fill="#26a69a"/>
<rect x="667" y="470" width="1" height="14" fill="#ef5350"/>
<rect x="666" y="470" width="3" height="7" fill="#ef5350"/>
<rect x="671" y="474" width="1" height="42" fill="#ef5350"/>
<rect x="670" y="476" width="3" height="36" fill="#ef5350"/>
<rect x="675" y="493" width="1" height="43" fill="#26a69a"/>
<rect x="674" y="508" width="3" height="4" fill="#26a69a"/>
<rect x="680" y="495" width="1" height="23" fill="#ef5350"/>
<rect x="679" y="508" width="3" height="5" fill="#ef5350"/>
<rect x="684" y="474" width="1" height="48" fill="#26a69a"/>
<rect x="683" y="479" width="3" height="34" fill="#26a69a"/>
<rect x="688" y="478" width="1" height="27" fill="#ef5350"/>
<rect x="687" y="479" width="3" height="16" fill="#ef5350"/>
<rect x="693" y="470" width="1" height="26" fill="#26a69a"/>
<rect x="692" y="473" width="3" height="22" fill="#26a69a"/>
<rect x="697" y="443" width="1" height="35" fill="#26a69a"/>
<rect x="696" y="447" width="3" height="27" fill="#26a69a"/>
<rect x="702" y="443" width="1" height="21" fill="#ef5350"/>
<rect x="701" y="448" width="3" height="9" fill="#ef5350"/>
<rect x="706" y="438" width="1" height="20" fill="#26a69a"/>
<rect x="705" y="454" width="3" height="4" fill="#26a69a"/>
<rect x="710" y="442" width="1" height="21" fill="#ef5350"/>
<rect x="709" y="454" width="3" height="9" fill="#ef5350"/>
<rect x="715" y="443" width="1" height="25" fill="#26a69a"/>
<rect x="714" y="449" width="3" height="14" fill="#26a69a"/>
<rect x="719" y="438" width="1" height="15" fill="#26a69a"/>
<rect x="718" y="441" width="3" height="9" fill="#26a69a"/>
<rect x="723" y="438" width="1" height="9" fill="#ef5350"/>
<rect x="722" y="441" width="3" height="3" fill="#ef5350"/>
<rect x="728" y="427" width="1" height="17" fill="#26a69a"/>
<rect x="727" y="429" width="3" height="15" fill="#26a69a"/>
<rect x="732" y="424" width="1" height="15" fill="#ef5350"/>
<rect x="731" y="429" width="3" height="6" fill="#ef5350"/>
<rect x="736" y="421" width="1" height="22" fill="#ef5350"/>
<rect x="735" y="434" width="3" height="4" fill="#ef5350"/>
<rect x="741" y="404" width="1" height="37" fill="#26a69a"/>
<rect x="740" y="407" width="3" height="31" fill="#26a69a"/>
<rect x="745" y="394" width="1" height="17" fill="#26a69a"/>
<rect x="744" y="402" width="3" height="6" fill="#26a69a"/>
<rect x="750" y="398" width="1" height="19" fill="#26a69a"/>
<rect x="749" y="398" width="3" height="5" fill="#26a69a"/>
<rect x="754" y="388" width="1" height="17" fill="#ef5350"/>
<rect x="753" y="398" width="3" height="6" fill="#ef5350"/>
<rect x="758" y="397" width="1" height="13" fill="#ef5350"/>
<rect x="757" y="403" width="3" height="4" fill="#ef5350"/>
<rect x="763" y="404" width="1" height="11" fill="#ef5350"/>
<rect x="762" y="406" width="3" height="4" fill="#ef5350"/>
<rect x="767" y="396" width="1" height="21" fill="#ef5350"/>
<rect x="766" y="409" width="3" height="1" fill="#ef5350"/>
<rect x="771" y="404" width="1" height="13" fill="#ef5350"/>
<rect x="770" y="410" width="3" height="4" fill="#ef5350"/>
<rect x="776" y="408" width="1" height="20" fill="#26a69a"/>
<rect x="775" y="410" width="3" height="4" fill="#26a69a"/>
<rect x="780" y="395" width="1" height="16" fill="#26a69a"/>
<rect x="779" y="402" width="3" height="9" fill="#26a69a"/>
<rect x="784" y="400" width="1" height="11" fill="#ef5350"/>
<rect x="783" y="402" width="3" height="8" fill="#ef5350"/>
<rect x="789" y="407" width="1" height="8" fill="#ef5350"/>
<rect x="788" y="409" width="3" height="4" fill="#ef5350"/>
<rect x="793" y="410" width="1" height="10" fill="#ef5350"/>
<rect x="792" y="412" width="3" height="8" fill="#ef5350"/>
<rect x="798" y="410" width="1" height="13" fill="#26a69a"/>
<rect x="797" y="412" width="3" height="8" fill="#26a69a"/>
<rect x="802" y="411" width="1" height="14" fill="#26a69a"/>
<rect x="801" y="412" width="3" height="1" fill="#26a69a"/>
<rect x="806" y="406" width="1" height="11" fill="#26a69a"/>
<rect x="805" y="412" width="3" height="1" fill="#26a69a"/>
<rect x="811" y="369" width="1" height="43" fill="#26a69a"/>
<rect x="810" y="370" width="3" height="42" fill="#26a69a"/>
<rect x="815" y="342" width="1" height="36" fill="#26a69a"/>
<rect x="814" y="350" width="3" height="21" fill="#26a69a"/>
<rect x="819" y="335" width="1" height="25" fill="#26a69a"/>
<rect x="818" y="337" width="3" height="14" fill="#26a69a"/>
<rect x="824" y="332" width="1" height="26" fill="#ef5350"/>
<rect x="823" y="337" width="3" height="13" fill="#ef5350"/>
<rect x="828" y="329" width="1" height="31" fill="#26a69a"/>
<rect x="827" y="346" width="3" height="4" fill="#26a69a"/>
<rect x="832" y="321" width="1" height="45" fill="#26a69a"/>
<rect x="831" y="323" width="3" height="24" fill="#26a69a"/>
<rect x="837" y="321" width="1" height="28" fill="#ef5350"/>
<rect x="836" y="323" width="3" height="17" fill="#ef5350"/>
<rect x="841" y="336" width="1" height="28" fill="#ef5350"/>
<rect x="840" y="340" width="3" height="19" fill="#ef5350"/>
<rect x="846" y="346" width="1" height="19" fill="#ef5350"/>
<rect x="845" y="358" width="3" height="6" fill="#ef5350"/>
<rect x="850" y="356" width="1" height="15" fill="#ef5350"/>
<rect x="849" y="363" width="3" height="4" fill="#ef5350"/>
<rect x="854" y="340" width="1" height="30" fill="#26a69a"/>
<rect x="853" y="348" width="3" height="19" fill="#26a69a"/>
<rect x="859" y="347" width="1" height="35" fill="#ef5350"/>
<rect x="858" y="348" width="3" height="17" fill="#ef5350"/>
<rect x="863" y="349" width="1" height="21" fill="#26a69a"/>
<rect x="862" y="360" width="3" height="5" fill="#26a69a"/>
<rect x="867" y="342" width="1" height="25" fill="#26a69a"/>
<rect x="866" y="348" width="3" height="13" fill="#26a69a"/>
<rect x="872" y="330" width="1" height="20" fill="#26a69a"/>
<rect x="871" y="333" width="3" height="16" fill="#26a69a"/>
<rect x="876" y="314" width="1" height="35" fill="#ef5350"/>
<rect x="875" y="333" width="3" height="15" fill="#ef5350"/>
<rect x="880" y="336" width="1" height="14" fill="#26a69a"/>
<rect x="879" y="342" width="3" height="6" fill="#26a69a"/>
<rect x="885" y="340" width="1" height="18" fill="#ef5350"/>
<rect x="884" y="342" width="3" height="1" fill="#ef5350"/>
<rect x="889" y="335" width="1" height="13" fill="#ef5350"/>
<rect x="888" y="343" width="3" height="3" fill="#ef5350"/>
<rect x="894" y="334" width="1" height="19" fill="#26a69a"/>
<rect x="893" y="340" width="3" height="6" fill="#26a69a"/>
<rect x="898" y="339" width="1" height="20" fill="#ef5350"/>
<rect x="897" y="340" width="3" height="12" fill="#ef5350"/>
<rect x="902" y="344" width="1" height="21" fill="#ef5350"/>
<rect x="901" y="351" width="3" height="14" fill="#ef5350"/>
<rect x="907" y="362" width="1" height="29" fill="#ef5350"/>
<rect x="906" y="364" width="3" height="26" fill="#ef5350"/>
<rect x="911" y="385" width="1" height="14" fill="#26a69a"/>
<rect x="910" y="389" width="3" height="1" fill="#26a69a"/>
<rect x="915" y="384" width="1" height="19" fill="#26a69a"/>
<rect x="914" y="386" width="3" height="4" fill="#26a69a"/>
<rect x="920" y="383" width="1" height="18" fill="#ef5350"/>
<rect x="919" y="386" width="3" height="3" fill="#ef5350"/>
<rect x="924" y="372" width="1" height="23" fill="#ef5350"/>
<rect x="923" y="388" width="3" height="5" fill="#ef5350"/>
<rect x="928" y="386" width="1" height="12" fill="#ef5350"/>
<rect x="927" y="392" width="3" height="6" fill="#ef5350"/>
<rect x="933" y="393" width="1" height="32" fill="#ef5350"/>
<rect x="932" y="397" width="3" height="22" fill="#ef5350"/>
<rect x="937" y="399" width="1" height="20" fill="#26a69a"/>
<rect x="936" y="410" width="3" height="9" fill="#26a69a"/>
<rect x="942" y="398" width="1" height="14" fill="#26a69a"/>
<rect x="941" y="404" width="3" height="7" fill="#26a69a"/>
<rect x="946" y="392" width="1" height="18" fill="#26a69a"/>
<rect x="945" y="399" width="3" height="6" fill="#26a69a"/>
<rect x="950" y="376" width="1" height="30" fill="#26a69a"/>
<rect x="949" y="378" width="3" height="22" fill="#26a69a"/>
<rect x="955" y="367" width="1" height="22" fill="#26a69a"/>
<rect x="954" y="368" width="3" height="10" fill="#26a69a"/>
<rect x="959" y="360" width="1" height="22" fill="#ef5350"/>
<rect x="958" y="368" width="3" height="9" fill="#ef5350"/>
<rect x="963" y="377" width="1" height="23" fill="#ef5350"/>
<rect x="962" y="378" width="3" height="22" fill="#ef5350"/>
<rect x="968" y="398" width="1" height="30" fill="#ef5350"/>
<rect x="967" y="399" width="3" height="10" fill="#ef5350"/>
<rect x="972" y="408" width="1" height="16" fill="#ef5350"/>
<rect x="971" y="408" width="3" height="10" fill="#ef5350"/>
<rect x="976" y="396" width="1" height="22" fill="#26a69a"/>
<rect x="975" y="397" width="3" height="21" fill="#26a69a"/>
<rect x="981" y="383" width="1" height="21" fill="#ef5350"/>
<rect x="980" y="397" width="3" height="7" fill="#ef5350"/>
<rect x="985" y="394" width="1" height="21" fill="#ef5350"/>
<rect x="984" y="403" width="3" height="8" fill="#ef5350"/>
<rect x="990" y="406" width="1" height="14" fill="#ef5350"/>
<rect x="989" y="410" width="3" height="4" fill="#ef5350"/>
<rect x="994" y="410" width="1" height="12" fill="#26a69a"/>
<rect x="993" y="412" width="3" height="2" fill="#26a69a"/>
<rect x="998" y="407" width="1" height="32" fill="#ef5350"/>
<rect x="997" y="412" width="3" height="17" fill="#ef5350"/>
<rect x="1003" y="422" width="1" height="28" fill="#ef5350"/>
<rect x="1002" y="428" width="3" height="13" fill="#ef5350"/>
<rect x="1007" y="434" width="1" height="28" fill="#ef5350"/>
<rect x="1006" y="440" width="3" height="10" fill="#ef5350"/>
<rect x="1011" y="412" width="1" height="39" fill="#26a69a"/>
<rect x="1010" y="418" width="3" height="32" fill="#26a69a"/>
<rect x="1016" y="412" width="1" height="11" fill="#26a69a"/>
<rect x="1015" y="414" width="3" height="5" fill="#26a69a"/>
<rect x="1020" y="409" width="1" height="14" fill="#ef5350"/>
<rect x="1019" y="414" width="3" height="7" fill="#ef5350"/>
<rect x="1024" y="409" width="1" height="23" fill="#ef5350"/>
<rect x="1023" y="420" width="3" height="12" fill="#ef5350"/>
<rect x="1029" y="417" width="1" height="18" fill="#26a69a"/>
<rect x="1028" y="424" width="3" height="8" fill="#26a69a"/>
<rect x="1033" y="398" width="1" height="28" fill="#26a69a"/>
<rect x="1032" y="403" width="3" height="22" fill="#26a69a"/>
<rect x="1038" y="393" width="1" height="13" fill="#26a69a"/>
<rect x="1037" y="397" width="3" height="7" fill="#26a69a"/>
<rect x="1042" y="380" width="1" height="26" fill="#26a69a"/>
<rect x="1041" y="393" width="3" height="5" fill="#26a69a"/>
<rect x="1046" y="391" width="1" height="26" fill="#ef5350"/>
<rect x="1045" y="393" width="3" height="20" fill="#ef5350"/>
<rect x="1051" y="394" width="1" height="20" fill="#26a69a"/>
<rect x="1050" y="399" width="3" height="14" fill="#26a69a"/>
<rect x="1055" y="389" width="1" height="16" fill="#26a69a"/>
<rect x="1054" y="398" width="3" height="1" fill="#26a69a"/>
<rect x="1059" y="395" width="1" height="21" fill="#ef5350"/>
<rect x="1058" y="399" width="3" height="12" fill="#ef5350"/>
<rect x="1064" y="408" width="1" height="6" fill="#ef5350"/>
<rect x="1063" y="411" width="3" height="1" fill="#ef5350"/>
<rect x="1068" y="395" width="1" height="17" fill="#26a69a"/>
<rect x="1067" y="400" width="3" height="11" fill="#26a69a"/>
<rect x="1072" y="396" width="1" height="14" fill="#ef5350"/>
<rect x="1071" y="400" width="3" height="8" fill="#ef5350"/>
<rect x="1077" y="398" width="1" height="12" fill="#26a69a"/>
<rect x="1076" y="401" width="3" height="7" fill="#26a69a"/>
<rect x="1081" y="385" width="1" height="18" fill="#26a69a"/>
<rect x="1080" y="388" width="3" height="13" fill="#26a69a"/>
<rect x="1086" y="367" width="1" height="24" fill="#26a69a"/>
<rect x="1085" y="370" width="3" height="19" fill="#26a69a"/>
<rect x="1090" y="361" width="1" height="21" fill="#ef5350"/>
<rect x="1089" y="370" width="3" height="4" fill="#ef5350"/>
<rect x="1094" y="371" width="1" height="15" fill="#ef5350"/>
<rect x="1093" y="373" width="3" height="7" fill="#ef5350"/>
<rect x="1099" y="370" width="1" height="11" fill="#26a69a"/>
<rect x="1098" y="378" width="3" height="2" fill="#26a69a"/>
<rect x="1103" y="360" width="1" height="19" fill="#26a69a"/>
<rect x="1102" y="375" width="3" height="4" fill="#26a69a"/>
<rect x="1107" y="370" width="1" height="17" fill="#26a69a"/>
<rect x="1106" y="371" width="3" height="4" fill="#26a69a"/>
<rect x="1112" y="342" width="1" height="35" fill="#26a69a"/>
<rect x="1111" y="348" width="3" height="24" fill="#26a69a"/>
<rect x="1116" y="337" width="1" height="23" fill="#26a69a"/>
<rect x="1115" y="342" width="3" height="6" fill="#26a69a"/>
<rect x="1120" y="321" width="1" height="28" fill="#26a69a"/>
<rect x="1119" y="339" width="3" height="4" fill="#26a69a"/>
<rect x="1125" y="336" width="1" height="11" fill="#ef5350"/>
<rect x="1124" y="339" width="3" height="1" fill="#ef5350"/>
<rect x="1129" y="324" width="1" height="17" fill="#26a69a"/>
<rect x="1128" y="329" width="3" height="12" fill="#26a69a"/>
<rect x="1134" y="286" width="1" height="51" fill="#26a69a"/>
<rect x="1133" y="295" width="3" height="35" fill="#26a69a"/>
<rect x="1138" y="269" width="1" height="30" fill="#26a69a"/>
<rect x="1137" y="271" width="3" height="25" fill="#26a69a"/>
<rect x="1142" y="270" width="1" height="48" fill="#ef5350"/>
<rect x="1141" y="271" width="3" height="40" fill="#ef5350"/>
<rect x="1147" y="304" width="1" height="30" fill="#ef5350"/>
<rect x="1146" y="310" width="3" height="16" fill="#ef5350"/>
<rect x="1151" y="316" width="1" height="27" fill="#26a69a"/>
<rect x="1150" y="316" width="3" height="10" fill="#26a69a"/>
<rect x="1155" y="309" width="1" height="13" fill="#ef5350"/>
<rect x="1154" y="316" width="3" height="6" fill="#ef5350"/>
<rect x="1160" y="307" width="1" height="15" fill="#26a69a"/>
<rect x="1159" y="312" width="3" height="10" fill="#26a69a"/>
<rect x="1164" y="296" width="1" height="20" fill="#ef5350"/>
<rect x="1163" y="312" width="3" height="3" fill="#ef5350"/>
<line x1="10" y1="314.5" x2="1300" y2="314.5" stroke="#ef5350" stroke-width="1" stroke-dasharray="1 2"/>
<polygon points="16.2,609.5 16.5,608.8 21.5,605.7 25.5,605.7 29.5,593.5 34.5,584.7 38.2,609.5" fill="url(#ob)"/>
<polygon points="41.1,609.5 43.5,607.4 44.1,609.5" fill="url(#ob)"/>
<polygon points="58.1,609.5 60.5,597.6 64.5,595.5 69.5,600.2 73.5,605.7 77.5,589.4 82.5,589.4 86.5,594.5 91.5,599.6 92.6,609.5" fill="url(#ob)"/>
<polygon points="330.1,609.5 331.5,599.6 334.3,609.5" fill="url(#ob)"/>
<polygon points="811.1,609.5 811.5,606.4 815.5,594.5 819.5,588.8 824.5,605.7 828.5,603.7 832.5,592.1 836.7,609.5" fill="url(#ob)"/>
<polygon points="1116.8,609.5 1120.5,607.8 1125.5,609.4 1129.5,599.2 1134.5,581.9 1138.5,573.7 1141.4,609.5" fill="url(#ob)"/>
<polygon points="490.4,720.5 492.5,733.4 496.5,727.7 501.5,734.4 505.5,727.7 507.0,720.5" fill="url(#os)"/>
<path d="M10.0,638.4 C11.0,638.6 14.1,639.8 16.1,639.4 C18.2,639.1 19.2,637.8 22.3,636.4 C25.3,635.0 31.4,632.0 34.5,630.9 C37.6,629.7 38.6,630.3 40.6,629.6 C42.7,629.0 44.0,628.6 46.8,626.8 C49.5,625.0 54.3,621.5 57.0,619.0 C59.7,616.5 61.1,614.0 63.1,611.9 C65.2,609.8 67.2,607.7 69.2,606.4 C71.3,605.0 73.3,604.4 75.4,603.7 C77.4,603.0 79.3,602.5 81.5,602.1 C83.7,601.6 86.9,600.9 88.6,601.0 C90.3,601.2 90.2,601.7 91.7,602.7 C93.2,603.6 95.4,605.6 97.8,606.8 C100.2,608.0 102.9,608.6 106.0,609.8 C109.1,611.0 113.2,612.0 116.2,613.9 C119.3,615.8 121.7,618.8 124.4,621.1 C127.1,623.3 129.8,625.3 132.6,627.6 C135.3,629.9 138.0,632.6 140.7,635.0 C143.5,637.3 146.2,639.8 148.9,641.9 C151.6,644.0 154.3,645.8 157.1,647.6 C159.8,649.4 162.2,651.0 165.2,652.7 C168.3,654.5 172.4,656.7 175.5,658.2 C178.5,659.8 181.1,660.9 183.6,661.9 C186.2,662.9 188.4,663.0 190.8,664.4 C193.2,665.7 195.4,667.6 197.9,670.1 C200.5,672.6 203.7,676.7 206.1,679.3 C208.5,681.8 209.8,684.1 212.2,685.4 C214.6,686.7 218.0,686.5 220.4,686.8 C222.8,687.2 224.5,686.7 226.5,687.5 C228.6,688.2 231.0,690.6 232.6,691.5 C234.2,692.5 234.9,692.6 236.1,693.0 C237.4,693.3 238.6,693.2 240.0,693.6 C241.4,693.9 242.2,694.5 244.3,695.0 C246.4,695.5 250.1,696.7 252.5,696.6 C254.9,696.6 256.6,696.0 258.6,694.6 C260.6,693.2 262.7,690.7 264.7,688.5 C266.8,686.3 268.6,683.7 270.9,681.3 C273.1,678.9 275.6,675.6 278.0,674.2 C280.4,672.7 282.3,673.1 285.2,672.5 C288.0,672.0 291.3,671.2 295.4,671.1 C299.4,671.0 305.9,672.0 309.7,671.7 C313.4,671.5 315.1,670.2 317.8,669.7 C320.6,669.2 323.3,669.6 326.0,668.7 C328.7,667.7 331.8,665.2 334.2,664.0 C336.6,662.8 338.3,662.7 340.3,661.5 C342.3,660.3 344.0,659.1 346.4,656.8 C348.8,654.5 351.9,650.7 354.6,647.6 C357.3,644.6 360.4,640.6 362.8,638.4 C365.2,636.2 366.9,635.4 368.9,634.3 C370.9,633.3 372.8,632.5 375.0,632.3 C377.2,632.1 380.1,632.4 382.2,632.9 C384.2,633.4 385.1,633.2 387.3,635.4 C389.5,637.5 392.7,643.1 395.5,646.0 C398.2,648.9 400.9,649.9 403.6,652.7 C406.3,655.6 408.7,659.4 411.8,662.9 C414.9,666.5 418.6,671.3 422.0,674.2 C425.4,677.1 429.2,678.8 432.2,680.3 C435.3,681.8 438.0,682.2 440.4,683.4 C442.8,684.6 444.1,686.6 446.5,687.5 C448.9,688.3 452.4,688.0 454.7,688.5 C456.9,689.0 458.7,690.0 460.0,690.5 C461.3,691.0 460.9,690.8 462.3,691.5 C463.7,692.3 466.3,694.3 468.4,695.0 C470.4,695.7 472.5,695.3 474.5,695.6 C476.6,696.0 478.4,696.4 480.6,697.1 C482.9,697.7 485.4,698.4 487.8,699.7 C490.2,701.0 492.4,702.9 494.9,704.8 C497.5,706.7 500.7,709.3 503.1,710.9 C505.5,712.6 507.4,713.9 509.2,714.6 C511.1,715.4 512.6,715.8 514.3,715.4 C516.0,715.1 516.6,713.8 519.4,712.6 C522.3,711.3 528.0,709.0 531.7,707.9 C535.4,706.8 538.9,706.3 541.9,705.8 C545.0,705.3 547.4,705.5 550.1,704.8 C552.8,704.1 555.5,702.8 558.3,701.7 C561.0,700.7 563.7,699.5 566.4,698.3 C569.2,697.1 572.6,694.9 574.6,694.6 C576.6,694.3 576.3,696.3 578.7,696.6 C581.1,697.0 585.5,696.9 588.9,696.6 C592.3,696.4 596.0,695.6 599.1,695.0 C602.2,694.4 604.6,694.4 607.3,693.2 C610.0,691.9 613.1,689.0 615.5,687.5 C617.8,685.9 619.5,685.2 621.6,684.0 C623.6,682.8 625.3,680.9 627.7,680.3 C630.1,679.7 632.5,680.5 635.9,680.3 C639.3,680.1 644.7,679.1 648.1,679.3 C651.5,679.5 653.2,680.9 656.3,681.3 C659.4,681.8 663.8,681.1 666.5,681.9 C669.2,682.8 671.0,685.3 672.6,686.4 C674.2,687.6 674.9,688.0 676.1,688.9 C677.4,689.7 679.0,690.9 680.0,691.5 C681.0,692.1 680.9,692.2 682.3,692.6 C683.7,692.9 686.5,693.6 688.4,693.6 C690.3,693.6 691.4,693.4 693.5,692.6 C695.5,691.7 697.7,689.9 700.6,688.5 C703.5,687.0 707.8,685.7 710.9,684.0 C713.9,682.3 716.0,680.4 719.0,678.3 C722.1,676.1 726.2,673.8 729.2,671.1 C732.3,668.4 734.7,665.0 737.4,661.9 C740.1,658.9 742.9,655.6 745.6,652.7 C748.3,649.8 751.0,646.4 753.7,644.6 C756.5,642.7 758.9,642.8 761.9,641.5 C765.0,640.2 769.1,638.1 772.1,637.0 C775.2,635.9 777.9,635.4 780.3,635.0 C782.7,634.5 784.4,634.3 786.4,634.3 C788.5,634.4 790.5,635.2 792.6,635.4 C794.6,635.5 796.5,635.0 798.7,635.4 C800.9,635.8 803.8,637.5 805.8,637.8 C807.9,638.1 808.7,637.9 810.9,637.0 C813.2,636.1 816.4,633.8 819.1,632.3 C821.8,630.8 824.9,629.6 827.3,628.2 C829.7,626.9 831.7,625.0 833.4,624.1 C835.1,623.2 835.1,622.9 837.5,622.7 C839.9,622.5 845.0,623.3 847.7,623.1 C850.4,622.9 851.5,621.7 853.8,621.5 C856.2,621.2 859.8,621.6 862.0,621.5 C864.2,621.3 865.4,620.4 867.1,620.5 C868.8,620.6 870.0,620.6 872.2,622.1 C874.4,623.6 877.7,627.4 880.4,629.2 C883.1,631.1 886.2,632.0 888.6,633.3 C890.9,634.7 893.1,636.4 894.7,637.4 C896.3,638.4 897.3,638.9 898.2,639.4 C899.1,640.0 898.6,639.5 900.0,640.5 C901.4,641.4 903.9,643.3 906.3,645.2 C908.8,647.0 912.1,650.0 914.5,651.7 C916.9,653.4 918.6,653.8 920.6,655.4 C922.7,656.9 924.7,658.8 926.8,660.9 C928.8,663.0 930.5,665.5 932.9,668.0 C935.3,670.6 938.7,674.2 941.1,676.2 C943.4,678.3 944.8,679.3 947.2,680.3 C949.6,681.3 952.6,681.7 955.4,682.3 C958.1,683.0 960.8,683.6 963.5,684.0 C966.3,684.4 969.0,684.8 971.7,684.8 C974.4,684.8 977.2,684.3 979.9,684.0 C982.6,683.7 985.7,683.4 988.0,683.0 C990.4,682.5 992.1,681.5 994.2,681.3 C996.2,681.2 998.3,681.4 1000.3,681.9 C1002.3,682.4 1004.0,683.5 1006.4,684.4 C1008.8,685.2 1011.9,686.2 1014.6,687.0 C1017.3,687.9 1020.4,689.3 1022.8,689.5 C1025.2,689.7 1027.2,689.0 1028.9,688.5 C1030.6,688.0 1030.9,687.3 1033.0,686.4 C1035.0,685.6 1038.1,684.6 1041.2,683.4 C1044.2,682.2 1048.3,680.6 1051.4,679.3 C1054.4,677.9 1056.8,676.8 1059.5,675.2 C1062.3,673.6 1064.6,671.3 1067.7,669.7 C1070.8,668.1 1075.2,667.1 1077.9,665.6 C1080.6,664.1 1082.0,662.5 1084.0,660.9 C1086.1,659.3 1088.2,657.3 1090.2,656.2 C1092.2,655.1 1094.1,655.0 1096.1,654.4 C1098.2,653.8 1100.1,653.7 1102.4,652.7 C1104.8,651.7 1108.0,650.0 1110.4,648.3 C1112.8,646.6 1115.4,643.7 1116.7,642.5 C1118.1,641.3 1116.9,642.7 1118.6,641.1 C1120.3,639.5 1124.2,635.7 1126.8,632.9 C1129.3,630.2 1131.9,627.2 1133.9,624.8 C1136.0,622.4 1137.5,619.8 1139.0,618.6 C1140.6,617.4 1141.4,617.7 1143.1,617.6 C1144.8,617.5 1146.9,618.1 1149.2,618.0 C1151.6,618.0 1155.0,617.4 1157.4,617.2 C1159.9,617.0 1162.9,616.7 1163.9,616.6" fill="none" stroke="#fdd835" stroke-width="1.2" stroke-linejoin="round" stroke-linecap="round"/>
<path d="M10.5,648.6 L12.5,619.0 L16.5,608.8 L21.5,605.7 L25.5,605.7 L29.5,593.5 L34.5,584.7 L38.5,611.9 L43.5,607.4 L47.5,620.7 L51.5,610.4 L56.5,617.4 L60.5,597.6 L64.5,595.5 L69.5,600.2 L73.5,605.7 L77.5,589.4 L82.5,589.4 L86.5,594.5 L91.5,599.6 L95.5,636.4 L99.5,643.5 L104.5,630.3 L108.5,637.8 L112.5,631.3 L117.5,641.5 L121.5,643.1 L125.5,662.9 L130.5,651.7 L134.5,658.9 L139.5,649.7 L143.5,647.6 L147.5,645.6 L152.5,647.2 L156.5,681.9 L160.5,686.4 L165.5,664.0 L169.5,664.4 L173.5,669.1 L178.5,675.2 L182.5,668.0 L187.5,680.3 L191.5,668.5 L195.5,691.5 L200.5,705.2 L204.5,703.8 L208.5,717.1 L213.5,717.5 L217.5,700.7 L221.5,686.8 L226.5,686.4 L230.5,697.2 L235.5,702.6 L239.5,680.8 L243.5,688.5 L248.5,686.0 L252.5,688.9 L256.5,678.3 L261.5,656.8 L265.5,642.5 L269.5,645.6 L274.5,650.7 L278.5,643.9 L283.5,671.1 L287.5,678.3 L291.5,693.6 L296.5,689.1 L300.5,688.1 L304.5,687.5 L309.5,695.0 L313.5,684.8 L317.5,653.7 L322.5,646.6 L326.5,635.4 L331.5,599.6 L335.5,613.9 L339.5,629.6 L344.5,623.5 L348.5,618.0 L352.5,624.1 L357.5,624.1 L361.5,621.1 L365.5,645.6 L370.5,653.7 L374.5,664.4 L379.5,662.9 L383.5,650.3 L387.5,659.9 L392.5,680.3 L396.5,691.9 L400.5,674.8 L405.5,683.4 L409.5,693.6 L413.5,700.3 L418.5,697.1 L422.5,686.0 L427.5,684.4 L431.5,684.4 L435.5,687.5 L440.5,688.9 L444.5,692.1 L448.5,682.3 L453.5,690.1 L457.5,699.7 L461.5,710.9 L466.5,718.7 L470.5,718.7 L475.5,703.2 L479.5,711.3 L483.5,704.4 L488.5,709.3 L492.5,733.4 L496.5,727.7 L501.5,734.4 L505.5,727.7 L509.5,707.9 L514.5,712.6 L518.5,659.3 L523.5,694.6 L527.5,690.9 L531.5,689.1 L536.5,691.9 L540.5,695.6 L544.5,698.7 L549.5,706.9 L553.5,714.0 L558.5,704.2 L562.5,700.3 L566.5,703.8 L571.5,686.8 L575.5,683.0 L579.5,694.6 L584.5,691.5 L588.5,695.0 L592.5,676.8 L597.5,687.5 L601.5,685.8 L606.5,685.8 L610.5,677.2 L614.5,662.9 L619.5,658.4 L623.5,670.1 L627.5,668.0 L632.5,682.3 L636.5,689.9 L640.5,689.5 L645.5,689.9 L649.5,684.8 L654.5,700.1 L658.5,700.7 L662.5,685.8 L667.5,689.5 L671.5,712.4 L675.5,709.3 L680.5,711.3 L684.5,677.9 L688.5,688.1 L693.5,671.1 L697.5,652.1 L702.5,659.3 L706.5,657.8 L710.5,664.4 L715.5,655.8 L719.5,648.0 L723.5,650.1 L728.5,639.9 L732.5,644.6 L736.5,648.0 L741.5,626.8 L745.5,623.1 L750.5,621.1 L754.5,626.2 L758.5,631.3 L763.5,635.0 L767.5,635.8 L771.5,640.5 L776.5,637.4 L780.5,629.8 L784.5,640.5 L789.5,645.2 L793.5,654.8 L798.5,647.2 L802.5,646.0 L806.5,644.6 L811.5,606.4 L815.5,594.5 L819.5,588.8 L824.5,605.7 L828.5,603.7 L832.5,592.1 L837.5,612.9 L841.5,635.8 L846.5,640.5 L850.5,645.2 L854.5,630.9 L859.5,648.2 L863.5,644.6 L867.5,635.0 L872.5,625.2 L876.5,640.5 L880.5,637.0 L885.5,637.4 L889.5,639.9 L894.5,636.4 L898.5,654.8 L902.5,670.5 L907.5,688.5 L911.5,688.1 L915.5,684.4 L920.5,686.8 L924.5,690.5 L928.5,694.6 L933.5,713.0 L937.5,699.7 L942.5,692.6 L946.5,684.8 L950.5,659.9 L955.5,650.7 L959.5,662.9 L963.5,683.4 L968.5,690.5 L972.5,697.7 L976.5,675.2 L981.5,679.3 L985.5,686.4 L990.5,688.5 L994.5,686.4 L998.5,700.7 L1003.5,707.9 L1007.5,715.4 L1011.5,678.3 L1016.5,675.2 L1020.5,680.3 L1024.5,688.9 L1029.5,680.9 L1033.5,659.9 L1038.5,654.8 L1042.5,651.3 L1046.5,670.5 L1051.5,658.2 L1055.5,658.2 L1059.5,669.5 L1064.5,669.7 L1068.5,658.2 L1072.5,665.6 L1077.5,658.9 L1081.5,644.6 L1086.5,630.7 L1090.5,635.0 L1094.5,642.5 L1099.5,641.5 L1103.5,638.4 L1107.5,634.3 L1112.5,613.9 L1116.5,609.6 L1120.5,607.8 L1125.5,609.4 L1129.5,599.2 L1134.5,581.9 L1138.5,573.7 L1142.5,622.7 L1147.5,639.1 L1151.5,632.9 L1155.5,637.0 L1160.5,631.3 L1164.5,634.0" fill="none" stroke="#7e57c2" stroke-width="3" stroke-linejoin="round" stroke-linecap="round"/>
</g>
<rect x="1300" y="28" width="1" height="744" fill="#e1e3e9"/>
<rect x="11" y="745" width="1354" height="1" fill="#e1e3e9"/>
<rect x="11" y="564" width="1354" height="1" fill="#e1e3e9"/>
<path d="M9,26 H1367 V774 H9 Z M11,28 V772 H1365 V28 Z" fill="#f1f2f4" fill-rule="evenodd"/>
<g style="filter:opacity(0.9999)">
<text x="10.5" y="18.6" font-size="13" font-weight="normal" fill="#131722" text-anchor="start" textLength="58.7" lengthAdjust="spacingAndGlyphs" stroke="#131722" stroke-width="0.3">ranadagger</text>
<text x="74" y="18.6" font-size="13" font-weight="normal" fill="#131722" text-anchor="start" textLength="39.8" lengthAdjust="spacingAndGlyphs" stroke="#131722" stroke-width="0.3">created</text>
<text x="118.5" y="18.6" font-size="13" font-weight="normal" fill="#131722" text-anchor="start" textLength="23.2" lengthAdjust="spacingAndGlyphs" stroke="#131722" stroke-width="0.3">with</text>
<text x="147.2" y="18.6" font-size="13" font-weight="normal" fill="#131722" text-anchor="start" textLength="92.3" lengthAdjust="spacingAndGlyphs" stroke="#131722" stroke-width="0.3">TradingView.com,</text>
<text x="245.1" y="18.6" font-size="13" font-weight="normal" fill="#131722" text-anchor="start" textLength="15.2" lengthAdjust="spacingAndGlyphs" stroke="#131722" stroke-width="0.3">Jul</text>
<text x="264.4" y="18.6" font-size="13" font-weight="normal" fill="#131722" text-anchor="start" textLength="15.2" lengthAdjust="spacingAndGlyphs" stroke="#131722" stroke-width="0.3">28,</text>
<text x="284.7" y="18.6" font-size="13" font-weight="normal" fill="#131722" text-anchor="start" textLength="23.2" lengthAdjust="spacingAndGlyphs" stroke="#131722" stroke-width="0.3">2025</text>
<text x="314.8" y="18.6" font-size="13" font-weight="normal" fill="#131722" text-anchor="start" textLength="26.2" lengthAdjust="spacingAndGlyphs" stroke="#131722" stroke-width="0.3">14:55</text>
<text x="347.2" y="18.6" font-size="13" font-weight="normal" fill="#131722" text-anchor="start" textLength="20.8" lengthAdjust="spacingAndGlyphs" stroke="#131722" stroke-width="0.3">UTC</text>
<text x="17.9" y="46" font-size="12" font-weight="normal" fill="#131722" text-anchor="start" textLength="19.7" lengthAdjust="spacingAndGlyphs" stroke="#131722" stroke-width="0.3">SOL</text>
<text x="52.7" y="46" font-size="12" font-weight="normal" fill="#131722" text-anchor="start" textLength="46.6" lengthAdjust="spacingAndGlyphs" stroke="#131722" stroke-width="0.3">TetherUS</text>
<text x="112.3" y="46" font-size="12" font-weight="normal" fill="#131722" text-anchor="start" textLength="12.0" lengthAdjust="spacingAndGlyphs" stroke="#131722" stroke-width="0.3">1D</text>
<text x="136.5" y="46" font-size="12" font-weight="normal" fill="#131722" text-anchor="start" textLength="45.3" lengthAdjust="spacingAndGlyphs" stroke="#131722" stroke-width="0.3">BINANCE</text>
<text x="45.05" y="46" font-size="12" font-weight="normal" fill="#131722" text-anchor="middle" stroke="#131722" stroke-width="0.3">/</text>
<rect x="104.4" y="41.3" width="1.8" height="1.8" fill="#131722"/><rect x="130.4" y="41.3" width="1.8" height="1.8" fill="#131722"/>
<text x="190.5" y="46" font-size="12" font-weight="normal" fill="#131722" text-anchor="start" textLength="8.2" lengthAdjust="spacingAndGlyphs" stroke="#131722" stroke-width="0.3">O</text>
<text x="199.3" y="46" font-size="12" font-weight="normal" fill="#ef5350" text-anchor="start" textLength="34" lengthAdjust="spacingAndGlyphs" stroke="#ef5350" stroke-width="0.3">188.64</text>
<text x="241.3" y="46" font-size="12" font-weight="normal" fill="#131722" text-anchor="start" textLength="7.6" lengthAdjust="spacingAndGlyphs" stroke="#131722" stroke-width="0.3">H</text>
<text x="250" y="46" font-size="12" font-weight="normal" fill="#ef5350" text-anchor="start" textLength="34.1" lengthAdjust="spacingAndGlyphs" stroke="#ef5350" stroke-width="0.3">195.26</text>
<text x="292.7" y="46" font-size="12" font-weight="normal" fill="#131722" text-anchor="start" textLength="6" lengthAdjust="spacingAndGlyphs" stroke="#131722" stroke-width="0.3">L</text>
<text x="300" y="46" font-size="12" font-weight="normal" fill="#ef5350" text-anchor="start" textLength="32.7" lengthAdjust="spacingAndGlyphs" stroke="#ef5350" stroke-width="0.3">186.71</text>
<text x="341.2" y="46" font-size="12" font-weight="normal" fill="#131722" text-anchor="start" textLength="7" lengthAdjust="spacingAndGlyphs" stroke="#131722" stroke-width="0.3">C</text>
<text x="349" y="46" font-size="12" font-weight="normal" fill="#ef5350" text-anchor="start" textLength="33.6" lengthAdjust="spacingAndGlyphs" stroke="#ef5350" stroke-width="0.3">187.81</text>
<text x="392.2" y="46" font-size="12" font-weight="normal" fill="#ef5350" text-anchor="start" textLength="77.3" lengthAdjust="spacingAndGlyphs" stroke="#ef5350" stroke-width="0.3">−0.83 (−0.44%)</text>
<text x="17.9" y="62.7" font-size="12" font-weight="normal" fill="#131722" text-anchor="start" textLength="15.6" lengthAdjust="spacingAndGlyphs" stroke="#131722" stroke-width="0.3">MA</text>
<text x="37.9" y="62.7" font-size="12" font-weight="normal" fill="#131722" text-anchor="start" textLength="27.0" lengthAdjust="spacingAndGlyphs" stroke="#131722" stroke-width="0.3">Cross</text>
<text x="70.2" y="62.7" font-size="12" font-weight="normal" fill="#131722" text-anchor="start" textLength="19.1" lengthAdjust="spacingAndGlyphs" stroke="#131722" stroke-width="0.3">(20,</text>
<text x="93.7" y="62.7" font-size="12" font-weight="normal" fill="#131722" text-anchor="start" textLength="16.6" lengthAdjust="spacingAndGlyphs" stroke="#131722" stroke-width="0.3">50)</text>
<text x="119" y="62.7" font-size="12" font-weight="normal" fill="#2979ff" text-anchor="start" textLength="34.9" lengthAdjust="spacingAndGlyphs" stroke="#2979ff" stroke-width="0.3">176.97</text>
<text x="161.8" y="62.7" font-size="12" font-weight="normal" fill="#f23645" text-anchor="start" textLength="35.2" lengthAdjust="spacingAndGlyphs" stroke="#f23645" stroke-width="0.3">159.94</text>
<text x="18.4" y="583.6" font-size="12" font-weight="normal" fill="#131722" text-anchor="start" textLength="15.1" lengthAdjust="spacingAndGlyphs" stroke="#131722" stroke-width="0.3">RSI</text>
<text x="39" y="583.6" font-size="12" font-weight="normal" fill="#131722" text-anchor="start" textLength="19.4" lengthAdjust="spacingAndGlyphs" stroke="#131722" stroke-width="0.3">(14,</text>
<text x="62.9" y="583.6" font-size="12" font-weight="normal" fill="#131722" text-anchor="start" textLength="30.9" lengthAdjust="spacingAndGlyphs" stroke="#131722" stroke-width="0.3">close)</text>
<text x="102" y="583.6" font-size="12" font-weight="normal" fill="#7e57c2" text-anchor="start" textLength="28.6" lengthAdjust="spacingAndGlyphs" stroke="#7e57c2" stroke-width="0.3">61.16</text>
<text x="138.6" y="583.6" font-size="12" font-weight="normal" fill="#fdd835" text-anchor="start" textLength="29.4" lengthAdjust="spacingAndGlyphs" stroke="#fdd835" stroke-width="0.3">67.26</text>
<text x="1309.4" y="96.9" font-size="12" font-weight="normal" fill="#131722" text-anchor="start" textLength="35.3" lengthAdjust="spacingAndGlyphs" stroke="#131722" stroke-width="0.3">280.00</text>
<text x="1309.4" y="192.9" font-size="12" font-weight="normal" fill="#131722" text-anchor="start" textLength="35.3" lengthAdjust="spacingAndGlyphs" stroke="#131722" stroke-width="0.3">240.00</text>
<text x="1309.4" y="240.9" font-size="12" font-weight="normal" fill="#131722" text-anchor="start" textLength="35.3" lengthAdjust="spacingAndGlyphs" stroke="#131722" stroke-width="0.3">220.00</text>
<text x="1309.4" y="288.9" font-size="12" font-weight="normal" fill="#131722" text-anchor="start" textLength="35.3" lengthAdjust="spacingAndGlyphs" stroke="#131722" stroke-width="0.3">200.00</text>
<text x="1309.4" y="432.9" font-size="12" font-weight="normal" fill="#131722" text-anchor="start" textLength="35.3" lengthAdjust="spacingAndGlyphs" stroke="#131722" stroke-width="0.3">140.00</text>
<text x="1309.4" y="480.9" font-size="12" font-weight="normal" fill="#131722" text-anchor="start" textLength="35.3" lengthAdjust="spacingAndGlyphs" stroke="#131722" stroke-width="0.3">120.00</text>
<text x="1309.4" y="528.9" font-size="12" font-weight="normal" fill="#131722" text-anchor="start" textLength="35.3" lengthAdjust="spacingAndGlyphs" stroke="#131722" stroke-width="0.3">100.00</text>
<text x="1309.2" y="586" font-size="12" font-weight="normal" fill="#131722" text-anchor="start" textLength="29.4" lengthAdjust="spacingAndGlyphs" stroke="#131722" stroke-width="0.3">80.00</text>
<text x="1309.2" y="697" font-size="12" font-weight="normal" fill="#131722" text-anchor="start" textLength="29.4" lengthAdjust="spacingAndGlyphs" stroke="#131722" stroke-width="0.3">40.00</text>
<rect x="1304.5" y="31" width="57.5" height="26" rx="4.5" fill="#fff" stroke="#f0f1f3" stroke-width="1.6"/>
<text x="1313.5" y="49" font-size="12" font-weight="normal" fill="#131722" text-anchor="start" textLength="27.2" lengthAdjust="spacingAndGlyphs" stroke="#131722" stroke-width="0.3">USDT</text>
<path d="M1301,132.0 H1348 Q1350,132.0 1350,134.0 V147.0 Q1350,149.0 1348,149.0 H1301 Z" fill="#0000ff"/>
<text x="1309.2" y="144.8" font-size="12" font-weight="normal" fill="#fff" text-anchor="start" textLength="35.3" lengthAdjust="spacingAndGlyphs" stroke="#fff" stroke-width="0.55">260.00</text>
<path d="M1301,255.0 H1348 Q1350,255.0 1350,257.0 V270.0 Q1350,272.0 1348,272.0 H1301 Z" fill="#0000ff"/>
<text x="1309.2" y="267.8" font-size="12" font-weight="normal" fill="#fff" text-anchor="start" textLength="35.3" lengthAdjust="spacingAndGlyphs" stroke="#fff" stroke-width="0.55">209.00</text>
<path d="M1301,493.0 H1348 Q1350,493.0 1350,495.0 V508.0 Q1350,510.0 1348,510.0 H1301 Z" fill="#0000ff"/>
<text x="1309.2" y="505.8" font-size="12" font-weight="normal" fill="#fff" text-anchor="start" textLength="35.3" lengthAdjust="spacingAndGlyphs" stroke="#fff" stroke-width="0.55">110.00</text>
<path d="M1301,351.5 H1348 Q1350,351.5 1350,353.5 V366.2 Q1350,368.2 1348,368.2 H1301 Z" fill="#0000ff"/>
<text x="1309.2" y="364.4" font-size="12" font-weight="normal" fill="#fff" text-anchor="start" textLength="35.3" lengthAdjust="spacingAndGlyphs" stroke="#fff" stroke-width="0.55">185.00</text>
<path d="M1300,306 H1246.2 Q1244.2,306 1244.2,308 V320.6 Q1244.2,322.6 1246.2,322.6 H1300 Z" fill="#ef5350"/>
<text x="1248.8" y="319" font-size="12" font-weight="normal" fill="#fff" text-anchor="start" textLength="45.9" lengthAdjust="spacingAndGlyphs" stroke="#fff" stroke-width="0.55">SOLUSDT</text>
<path d="M1301,306 H1359 Q1361,306 1361,308 V348.5 Q1361,350.5 1359,350.5 H1301 Z" fill="#ef5350"/>
<text x="1309.2" y="318.6" font-size="12" font-weight="normal" fill="#fff" text-anchor="start" textLength="34.3" lengthAdjust="spacingAndGlyphs" stroke="#fff" stroke-width="0.55">187.81</text>
<text x="1309.2" y="332.6" font-size="12" font-weight="normal" fill="#fff" text-anchor="start" textLength="42.8" lengthAdjust="spacingAndGlyphs" stroke="#fff" stroke-width="0.55">+12.71%</text>
<text x="1309.2" y="346.6" font-size="12" font-weight="normal" fill="#fff" text-anchor="start" textLength="46.1" lengthAdjust="spacingAndGlyphs" fill-opacity="0.75" stroke-opacity="0.75" stroke="#fff" stroke-width="0.55">09:04:43</text>
<path d="M1300,368.5 H1194.3 Q1192.3,368.5 1192.3,370.5 V383 Q1192.3,385 1194.3,385 H1300 Z" fill="#2979ff"/>
<text x="1196.7" y="381" font-size="12" font-weight="normal" fill="#fff" text-anchor="start" textLength="14.9" lengthAdjust="spacingAndGlyphs" stroke="#fff" stroke-width="0.55">MA</text>
<text x="1215.6" y="381" font-size="12" font-weight="normal" fill="#fff" text-anchor="start" textLength="61.1" lengthAdjust="spacingAndGlyphs" stroke="#fff" stroke-width="0.55">Cross:Short</text>
<text x="1280.7" y="381" font-size="12" font-weight="normal" fill="#fff" text-anchor="start" textLength="15.6" lengthAdjust="spacingAndGlyphs" stroke="#fff" stroke-width="0.55">MA</text>
<path d="M1301,368.5 H1348 Q1350,368.5 1350,370.5 V383 Q1350,385 1348,385 H1301 Z" fill="#2979ff"/>
<text x="1309.2" y="381" font-size="12" font-weight="normal" fill="#fff" text-anchor="start" textLength="35.3" lengthAdjust="spacingAndGlyphs" stroke="#fff" stroke-width="0.55">176.97</text>
<path d="M1300,385.3 H1198 Q1196,385.3 1196,387.3 V399.8 Q1196,401.8 1198,401.8 H1300 Z" fill="#f23645"/>
<text x="1200" y="397.5" font-size="12" font-weight="normal" fill="#fff" text-anchor="start" textLength="15" lengthAdjust="spacingAndGlyphs" stroke="#fff" stroke-width="0.55">MA</text>
<text x="1218.8" y="397.5" font-size="12" font-weight="normal" fill="#fff" text-anchor="start" textLength="57.9" lengthAdjust="spacingAndGlyphs" stroke="#fff" stroke-width="0.55">Cross:Long</text>
<text x="1280.7" y="397.5" font-size="12" font-weight="normal" fill="#fff" text-anchor="start" textLength="15.6" lengthAdjust="spacingAndGlyphs" stroke="#fff" stroke-width="0.55">MA</text>
<path d="M1301,385.3 H1348 Q1350,385.3 1350,387.3 V399.8 Q1350,401.8 1348,401.8 H1301 Z" fill="#f23645"/>
<text x="1309.2" y="397.5" font-size="12" font-weight="normal" fill="#fff" text-anchor="start" textLength="35.3" lengthAdjust="spacingAndGlyphs" stroke="#fff" stroke-width="0.55">159.94</text>
<path d="M1300,609 H1223.1 Q1221.1,609 1221.1,611 V623.7 Q1221.1,625.7 1223.1,625.7 H1300 Z" fill="#fdd835"/>
<text x="1225.8" y="621.9" font-size="12" font-weight="normal" fill="#131722" text-anchor="start" textLength="52.1" lengthAdjust="spacingAndGlyphs" stroke="#131722" stroke-width="0.3">RSI-based</text>
<text x="1282" y="621.9" font-size="12" font-weight="normal" fill="#131722" text-anchor="start" textLength="13.3" lengthAdjust="spacingAndGlyphs" stroke="#131722" stroke-width="0.3">MA</text>
<path d="M1301,609 H1341.6 Q1343.6,609 1343.6,611 V623.7 Q1343.6,625.7 1341.6,625.7 H1301 Z" fill="#fdd835"/>
<text x="1309.2" y="621.9" font-size="12" font-weight="normal" fill="#131722" text-anchor="start" textLength="29.7" lengthAdjust="spacingAndGlyphs" stroke="#131722" stroke-width="0.3">67.26</text>
<path d="M1300,626.2 H1276.8 Q1274.8,626.2 1274.8,628.2 V640.8 Q1274.8,642.8 1276.8,642.8 H1300 Z" fill="#7e57c2"/>
<text x="1280.1" y="638.9" font-size="12" font-weight="normal" fill="#fff" text-anchor="start" textLength="16.2" lengthAdjust="spacingAndGlyphs" stroke="#fff" stroke-width="0.55">RSI</text>
<path d="M1301,626.2 H1341.6 Q1343.6,626.2 1343.6,628.2 V640.8 Q1343.6,642.8 1341.6,642.8 H1301 Z" fill="#7e57c2"/>
<text x="1309.2" y="639" font-size="12" font-weight="normal" fill="#fff" text-anchor="start" textLength="29.7" lengthAdjust="spacingAndGlyphs" stroke="#fff" stroke-width="0.55">61.16</text>
<text x="111.9" y="763" font-size="12" font-weight="normal" fill="#131722" text-anchor="start" textLength="18.7" lengthAdjust="spacingAndGlyphs" stroke="#131722" stroke-width="0.3">Dec</text>
<text x="243.0" y="763" font-size="12" font-weight="bold" fill="#131722" text-anchor="start" textLength="27" lengthAdjust="spacingAndGlyphs">2025</text>
<text x="382.4" y="763" font-size="12" font-weight="normal" fill="#131722" text-anchor="start" textLength="19" lengthAdjust="spacingAndGlyphs" stroke="#131722" stroke-width="0.3">Feb</text>
<text x="503.8" y="763" font-size="12" font-weight="normal" fill="#131722" text-anchor="start" textLength="20" lengthAdjust="spacingAndGlyphs" stroke="#131722" stroke-width="0.3">Mar</text>
<text x="640.2" y="763" font-size="12" font-weight="normal" fill="#131722" text-anchor="start" textLength="18" lengthAdjust="spacingAndGlyphs" stroke="#131722" stroke-width="0.3">Apr</text>
<text x="769.5" y="763" font-size="12" font-weight="normal" fill="#131722" text-anchor="start" textLength="21" lengthAdjust="spacingAndGlyphs" stroke="#131722" stroke-width="0.3">May</text>
<text x="906.0" y="763" font-size="12" font-weight="normal" fill="#131722" text-anchor="start" textLength="18.4" lengthAdjust="spacingAndGlyphs" stroke="#131722" stroke-width="0.3">Jun</text>
<text x="1038.8" y="763" font-size="12" font-weight="normal" fill="#131722" text-anchor="start" textLength="15" lengthAdjust="spacingAndGlyphs" stroke="#131722" stroke-width="0.3">Jul</text>
<text x="1171.8" y="763" font-size="12" font-weight="normal" fill="#131722" text-anchor="start" textLength="19.8" lengthAdjust="spacingAndGlyphs" stroke="#131722" stroke-width="0.3">Aug</text>
<path d="M1173.78,548.56 A9.7,9.7 0 1 1 1167.66,542.23" fill="none" stroke="#9c27b0" stroke-width="1.5" stroke-linecap="round"/>
<path d="M1166.8,546.4 L1160.3,551.6 L1164.1,551.9 L1161.3,556.7 L1168.6,551.3 L1164.9,550.9 Z" fill="#9c27b0"/>
<circle cx="1171.4" cy="544.5" r="2.6" fill="#f23645"/>
<path d="M10,785.2 H18 V794.6 H13.7 V788.7 H10 Z" fill="#131722"/>
<circle cx="21" cy="786.9" r="1.75" fill="#131722"/>
<path d="M24.4,785.2 H29.8 L25.9,794.6 H21 Z" fill="#131722"/>
<text x="33" y="794.6" font-size="13" font-weight="normal" fill="#131722" text-anchor="start" textLength="69.9" lengthAdjust="spacingAndGlyphs" stroke="#131722" stroke-width="0.3">TradingView</text>
</g>
</svg>
</body></html>
